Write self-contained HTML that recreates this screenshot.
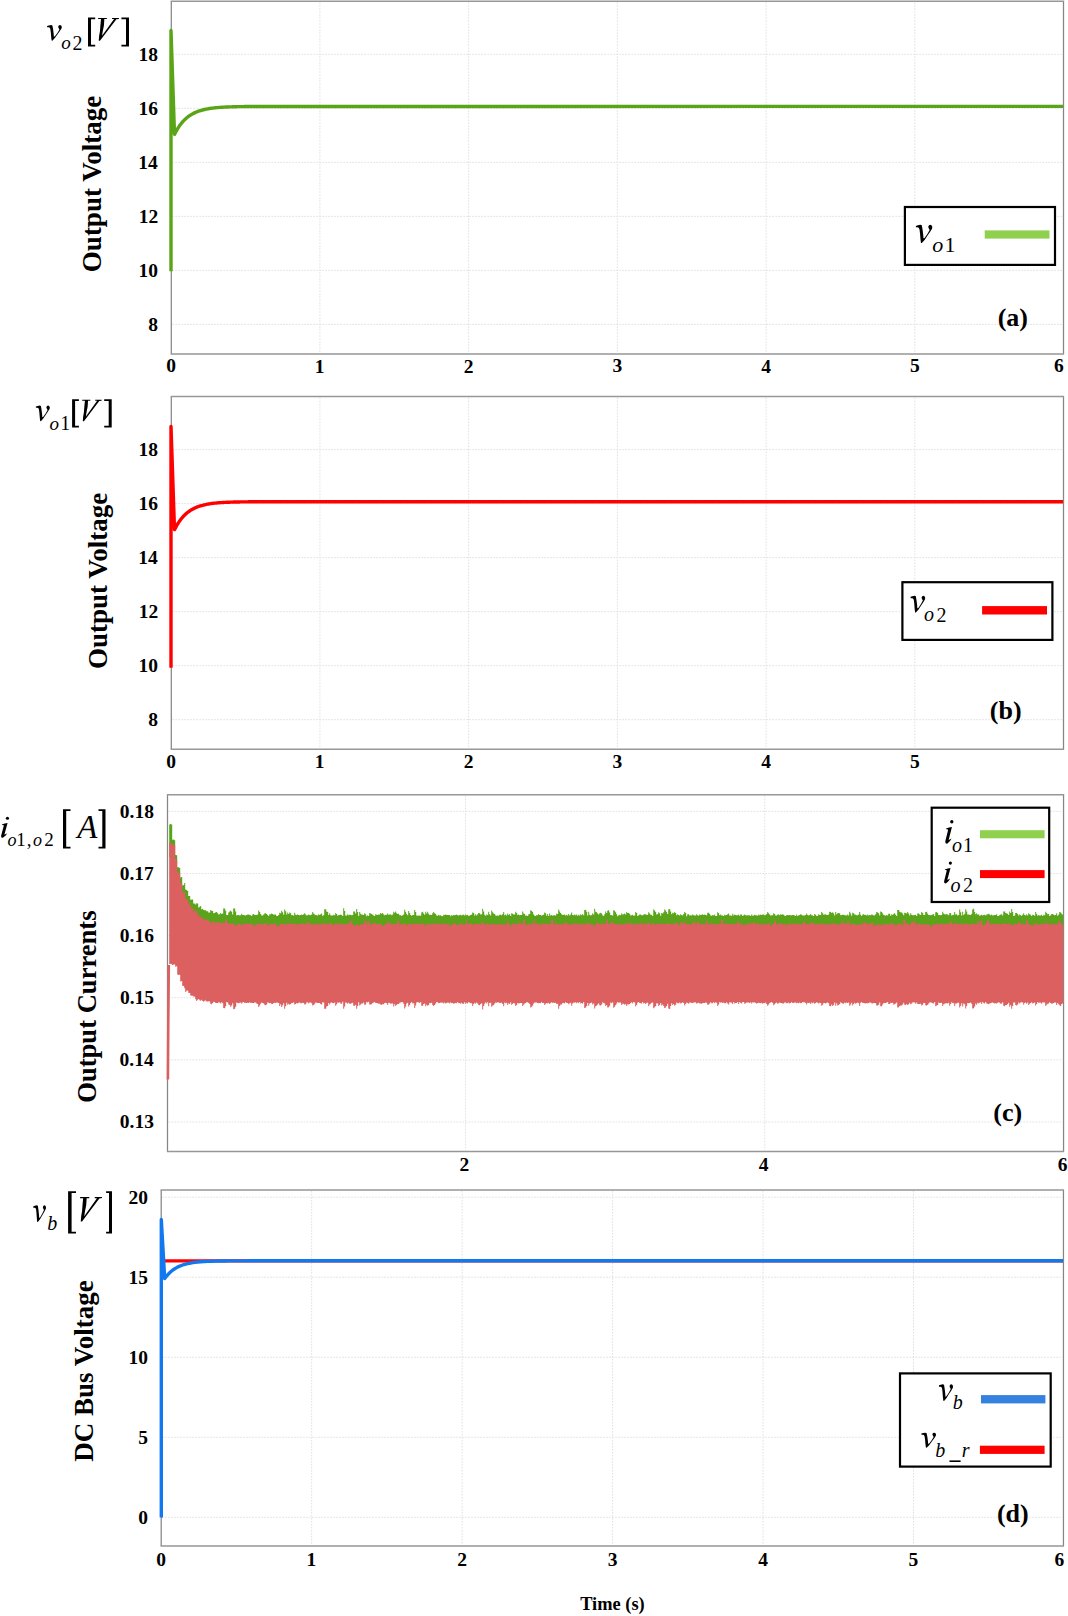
<!DOCTYPE html>
<html><head><meta charset="utf-8"><style>
html,body{margin:0;padding:0;background:#fff;overflow:hidden;}
svg{display:block;font-family:"Liberation Serif", serif;}
</style></head><body>
<svg width="1068" height="1616" viewBox="0 0 1068 1616" font-family='"Liberation Serif", serif'>
<rect x="0" y="0" width="1068" height="1616" fill="#fff"/>
<line x1="319.92" y1="2.30" x2="319.92" y2="352.90" stroke="#e0e0e0" stroke-width="1" stroke-dasharray="1.6 1.4"/>
<line x1="468.64" y1="2.30" x2="468.64" y2="352.90" stroke="#e0e0e0" stroke-width="1" stroke-dasharray="1.6 1.4"/>
<line x1="617.36" y1="2.30" x2="617.36" y2="352.90" stroke="#e0e0e0" stroke-width="1" stroke-dasharray="1.6 1.4"/>
<line x1="766.08" y1="2.30" x2="766.08" y2="352.90" stroke="#e0e0e0" stroke-width="1" stroke-dasharray="1.6 1.4"/>
<line x1="914.80" y1="2.30" x2="914.80" y2="352.90" stroke="#e0e0e0" stroke-width="1" stroke-dasharray="1.6 1.4"/>
<line x1="172.30" y1="324.40" x2="1062.50" y2="324.40" stroke="#e0e0e0" stroke-width="1" stroke-dasharray="1.6 1.4"/>
<line x1="172.30" y1="270.38" x2="1062.50" y2="270.38" stroke="#e0e0e0" stroke-width="1" stroke-dasharray="1.6 1.4"/>
<line x1="172.30" y1="216.36" x2="1062.50" y2="216.36" stroke="#e0e0e0" stroke-width="1" stroke-dasharray="1.6 1.4"/>
<line x1="172.30" y1="162.34" x2="1062.50" y2="162.34" stroke="#e0e0e0" stroke-width="1" stroke-dasharray="1.6 1.4"/>
<line x1="172.30" y1="108.32" x2="1062.50" y2="108.32" stroke="#e0e0e0" stroke-width="1" stroke-dasharray="1.6 1.4"/>
<line x1="172.30" y1="54.30" x2="1062.50" y2="54.30" stroke="#e0e0e0" stroke-width="1" stroke-dasharray="1.6 1.4"/>
<path d="M171.30,1.30V353.90M1063.50,1.30V353.90" stroke="#868686" stroke-width="1.25" fill="none"/>
<path d="M170.70,1.30H1064.10M170.70,353.90H1064.10" stroke="#979797" stroke-width="1.5" fill="none"/>
<path d="M171.00,271.20 L171.00,30.50 L174.50,134.30 L175.50,132.51 L176.50,130.66 L177.50,128.94 L178.50,127.34 L179.50,125.86 L180.50,124.48 L181.50,123.19 L182.50,122.00 L183.50,120.90 L184.50,119.87 L185.50,118.92 L186.50,118.03 L187.50,117.20 L188.50,116.44 L189.50,115.73 L190.50,115.07 L191.50,114.45 L192.50,113.88 L193.50,113.35 L194.50,112.86 L195.50,112.40 L196.50,111.97 L197.50,111.58 L198.50,111.21 L199.50,110.87 L200.50,110.55 L201.50,110.26 L202.50,109.99 L203.50,109.73 L204.50,109.50 L205.50,109.28 L206.50,109.07 L207.50,108.88 L208.50,108.71 L209.50,108.54 L210.50,108.39 L211.50,108.25 L212.50,108.12 L213.50,108.00 L214.50,107.88 L215.50,107.78 L216.50,107.68 L217.50,107.59 L218.50,107.51 L219.50,107.43 L220.50,107.35 L221.50,107.29 L222.50,107.22 L223.50,107.17 L224.50,107.11 L225.50,107.06 L226.50,107.01 L227.50,106.97 L228.50,106.93 L229.50,106.89 L230.50,106.86 L231.50,106.83 L232.50,106.79 L233.50,106.77 L234.50,106.74 L235.50,106.72 L236.50,106.69 L237.50,106.67 L238.50,106.65 L239.50,106.64 L240.50,106.62 L241.50,106.60 L242.50,106.59 L243.50,106.58 L244.50,106.56 L245.50,106.55 L246.50,106.54 L247.50,106.53 L248.50,106.52 L249.50,106.51 L250.50,106.51 L251.50,106.50 L252.50,106.49 L253.50,106.48 L254.50,106.48 L255.50,106.47 L256.50,106.47 L257.50,106.46 L258.50,106.46 L259.50,106.45 L260.50,106.45 L261.50,106.45 L262.50,106.44 L1063.00,106.40" fill="none" stroke="#5aa418" stroke-width="3.4" stroke-linejoin="round" stroke-linecap="butt"/>
<text x="148.18" y="330.88" style="font-weight:bold;font-size:19.5px">8</text>
<text x="138.55" y="276.86" style="font-weight:bold;font-size:19.5px">10</text>
<text x="138.68" y="222.96" style="font-weight:bold;font-size:19.5px">12</text>
<text x="138.18" y="168.94" style="font-weight:bold;font-size:19.5px">14</text>
<text x="138.43" y="114.79" style="font-weight:bold;font-size:19.5px">16</text>
<text x="138.43" y="60.77" style="font-weight:bold;font-size:19.5px">18</text>
<text x="166.32" y="372.48" style="font-weight:bold;font-size:19.5px">0</text>
<text x="314.73" y="372.60" style="font-weight:bold;font-size:19.5px">1</text>
<text x="463.76" y="372.60" style="font-weight:bold;font-size:19.5px">2</text>
<text x="612.42" y="372.48" style="font-weight:bold;font-size:19.5px">3</text>
<text x="761.27" y="372.60" style="font-weight:bold;font-size:19.5px">4</text>
<text x="909.92" y="372.48" style="font-weight:bold;font-size:19.5px">5</text>
<text x="1053.97" y="372.48" style="font-weight:bold;font-size:19.5px">6</text>
<line x1="319.92" y1="397.60" x2="319.92" y2="748.20" stroke="#e0e0e0" stroke-width="1" stroke-dasharray="1.6 1.4"/>
<line x1="468.64" y1="397.60" x2="468.64" y2="748.20" stroke="#e0e0e0" stroke-width="1" stroke-dasharray="1.6 1.4"/>
<line x1="617.36" y1="397.60" x2="617.36" y2="748.20" stroke="#e0e0e0" stroke-width="1" stroke-dasharray="1.6 1.4"/>
<line x1="766.08" y1="397.60" x2="766.08" y2="748.20" stroke="#e0e0e0" stroke-width="1" stroke-dasharray="1.6 1.4"/>
<line x1="914.80" y1="397.60" x2="914.80" y2="748.20" stroke="#e0e0e0" stroke-width="1" stroke-dasharray="1.6 1.4"/>
<line x1="172.30" y1="719.70" x2="1062.50" y2="719.70" stroke="#e0e0e0" stroke-width="1" stroke-dasharray="1.6 1.4"/>
<line x1="172.30" y1="665.68" x2="1062.50" y2="665.68" stroke="#e0e0e0" stroke-width="1" stroke-dasharray="1.6 1.4"/>
<line x1="172.30" y1="611.66" x2="1062.50" y2="611.66" stroke="#e0e0e0" stroke-width="1" stroke-dasharray="1.6 1.4"/>
<line x1="172.30" y1="557.64" x2="1062.50" y2="557.64" stroke="#e0e0e0" stroke-width="1" stroke-dasharray="1.6 1.4"/>
<line x1="172.30" y1="503.62" x2="1062.50" y2="503.62" stroke="#e0e0e0" stroke-width="1" stroke-dasharray="1.6 1.4"/>
<line x1="172.30" y1="449.60" x2="1062.50" y2="449.60" stroke="#e0e0e0" stroke-width="1" stroke-dasharray="1.6 1.4"/>
<path d="M171.30,396.60V749.20M1063.50,396.60V749.20" stroke="#868686" stroke-width="1.25" fill="none"/>
<path d="M170.70,396.60H1064.10M170.70,749.20H1064.10" stroke="#979797" stroke-width="1.5" fill="none"/>
<path d="M171.00,667.70 L171.00,426.40 L174.50,529.60 L175.50,527.81 L176.50,525.96 L177.50,524.24 L178.50,522.64 L179.50,521.16 L180.50,519.78 L181.50,518.49 L182.50,517.30 L183.50,516.20 L184.50,515.17 L185.50,514.22 L186.50,513.33 L187.50,512.50 L188.50,511.74 L189.50,511.03 L190.50,510.37 L191.50,509.75 L192.50,509.18 L193.50,508.65 L194.50,508.16 L195.50,507.70 L196.50,507.27 L197.50,506.88 L198.50,506.51 L199.50,506.17 L200.50,505.85 L201.50,505.56 L202.50,505.29 L203.50,505.03 L204.50,504.80 L205.50,504.58 L206.50,504.37 L207.50,504.18 L208.50,504.01 L209.50,503.84 L210.50,503.69 L211.50,503.55 L212.50,503.42 L213.50,503.30 L214.50,503.18 L215.50,503.08 L216.50,502.98 L217.50,502.89 L218.50,502.81 L219.50,502.73 L220.50,502.65 L221.50,502.59 L222.50,502.52 L223.50,502.47 L224.50,502.41 L225.50,502.36 L226.50,502.31 L227.50,502.27 L228.50,502.23 L229.50,502.19 L230.50,502.16 L231.50,502.13 L232.50,502.09 L233.50,502.07 L234.50,502.04 L235.50,502.02 L236.50,501.99 L237.50,501.97 L238.50,501.95 L239.50,501.94 L240.50,501.92 L241.50,501.90 L242.50,501.89 L243.50,501.88 L244.50,501.86 L245.50,501.85 L246.50,501.84 L247.50,501.83 L248.50,501.82 L249.50,501.81 L250.50,501.81 L251.50,501.80 L252.50,501.79 L253.50,501.78 L254.50,501.78 L255.50,501.77 L256.50,501.77 L257.50,501.76 L258.50,501.76 L259.50,501.75 L260.50,501.75 L261.50,501.75 L262.50,501.74 L1063.00,501.70" fill="none" stroke="#ff0000" stroke-width="3.4" stroke-linejoin="round" stroke-linecap="butt"/>
<text x="148.18" y="726.18" style="font-weight:bold;font-size:19.5px">8</text>
<text x="138.55" y="672.16" style="font-weight:bold;font-size:19.5px">10</text>
<text x="138.68" y="618.26" style="font-weight:bold;font-size:19.5px">12</text>
<text x="138.18" y="564.24" style="font-weight:bold;font-size:19.5px">14</text>
<text x="138.43" y="510.10" style="font-weight:bold;font-size:19.5px">16</text>
<text x="138.43" y="456.08" style="font-weight:bold;font-size:19.5px">18</text>
<text x="166.32" y="767.78" style="font-weight:bold;font-size:19.5px">0</text>
<text x="314.73" y="767.90" style="font-weight:bold;font-size:19.5px">1</text>
<text x="463.76" y="767.90" style="font-weight:bold;font-size:19.5px">2</text>
<text x="612.42" y="767.78" style="font-weight:bold;font-size:19.5px">3</text>
<text x="761.27" y="767.90" style="font-weight:bold;font-size:19.5px">4</text>
<text x="909.92" y="767.78" style="font-weight:bold;font-size:19.5px">5</text>
<line x1="465.60" y1="795.70" x2="465.60" y2="1150.45" stroke="#e0e0e0" stroke-width="1" stroke-dasharray="1.6 1.4"/>
<line x1="764.80" y1="795.70" x2="764.80" y2="1150.45" stroke="#e0e0e0" stroke-width="1" stroke-dasharray="1.6 1.4"/>
<line x1="168.50" y1="1122.00" x2="1062.55" y2="1122.00" stroke="#e0e0e0" stroke-width="1" stroke-dasharray="1.6 1.4"/>
<line x1="168.50" y1="1059.86" x2="1062.55" y2="1059.86" stroke="#e0e0e0" stroke-width="1" stroke-dasharray="1.6 1.4"/>
<line x1="168.50" y1="997.72" x2="1062.55" y2="997.72" stroke="#e0e0e0" stroke-width="1" stroke-dasharray="1.6 1.4"/>
<line x1="168.50" y1="935.58" x2="1062.55" y2="935.58" stroke="#e0e0e0" stroke-width="1" stroke-dasharray="1.6 1.4"/>
<line x1="168.50" y1="873.44" x2="1062.55" y2="873.44" stroke="#e0e0e0" stroke-width="1" stroke-dasharray="1.6 1.4"/>
<line x1="168.50" y1="811.30" x2="1062.55" y2="811.30" stroke="#e0e0e0" stroke-width="1" stroke-dasharray="1.6 1.4"/>
<path d="M167.50,794.70V1151.45M1063.55,794.70V1151.45" stroke="#868686" stroke-width="1.25" fill="none"/>
<path d="M166.90,794.70H1064.15M166.90,1151.45H1064.15" stroke="#979797" stroke-width="1.5" fill="none"/>
<path d="M169.2,824.6 L170.2,824.6 L170.2,824.0 L171.2,824.0 L171.2,824.6 L172.2,824.6 L172.2,839.7 L173.2,839.7 L173.2,839.4 L174.2,839.4 L174.2,840.3 L175.2,840.3 L175.2,855.0 L176.2,855.0 L176.2,855.3 L177.2,855.3 L177.2,867.3 L178.2,867.3 L178.2,867.3 L179.2,867.3 L179.2,868.0 L180.2,868.0 L180.2,877.6 L181.2,877.6 L181.2,876.9 L182.2,876.9 L182.2,885.6 L183.2,885.6 L183.2,884.9 L184.2,884.9 L184.2,883.1 L185.2,883.1 L185.2,889.5 L186.2,889.5 L186.2,889.9 L187.2,889.9 L187.2,891.0 L188.2,891.0 L188.2,895.9 L189.2,895.9 L189.2,895.9 L190.2,895.9 L190.2,899.8 L191.2,899.8 L191.2,899.4 L192.2,899.4 L192.2,899.6 L193.2,899.6 L193.2,903.5 L194.2,903.5 L194.2,903.4 L195.2,903.4 L195.2,904.5 L196.2,904.5 L196.2,903.3 L197.2,903.3 L197.2,903.5 L198.2,903.5 L198.2,907.5 L199.2,907.5 L199.2,906.8 L200.2,906.8 L200.2,906.0 L201.2,906.0 L201.2,909.3 L202.2,909.3 L202.2,908.8 L203.2,908.8 L203.2,909.9 L204.2,909.9 L204.2,910.2 L205.2,910.2 L205.2,910.3 L206.2,910.3 L206.2,911.2 L207.2,911.2 L207.2,911.2 L208.2,911.2 L208.2,912.4 L209.2,912.4 L209.2,912.4 L210.2,912.4 L210.2,910.0 L211.2,910.0 L211.2,910.8 L212.2,910.8 L212.2,911.1 L213.2,911.1 L213.2,913.3 L214.2,913.3 L214.2,912.9 L215.2,912.9 L215.2,912.3 L216.2,912.3 L216.2,912.1 L217.2,912.1 L217.2,913.3 L218.2,913.3 L218.2,914.4 L219.2,914.4 L219.2,914.2 L220.2,914.2 L220.2,913.1 L221.2,913.1 L221.2,913.9 L222.2,913.9 L222.2,913.5 L223.2,913.5 L223.2,908.4 L224.2,908.4 L224.2,908.5 L225.2,908.5 L225.2,910.7 L226.2,910.7 L226.2,915.1 L227.2,915.1 L227.2,915.1 L228.2,915.1 L228.2,912.4 L229.2,912.4 L229.2,911.5 L230.2,911.5 L230.2,910.6 L231.2,910.6 L231.2,911.8 L232.2,911.8 L232.2,914.5 L233.2,914.5 L233.2,908.4 L234.2,908.4 L234.2,908.6 L235.2,908.6 L235.2,911.5 L236.2,911.5 L236.2,915.5 L237.2,915.5 L237.2,914.9 L238.2,914.9 L238.2,914.9 L239.2,914.9 L239.2,915.4 L240.2,915.4 L240.2,915.3 L241.2,915.3 L241.2,913.8 L242.2,913.8 L242.2,914.9 L243.2,914.9 L243.2,915.0 L244.2,915.0 L244.2,915.2 L245.2,915.2 L245.2,915.4 L246.2,915.4 L246.2,915.0 L247.2,915.0 L247.2,914.5 L248.2,914.5 L248.2,914.4 L249.2,914.4 L249.2,915.1 L250.2,915.1 L250.2,915.2 L251.2,915.2 L251.2,915.9 L252.2,915.9 L252.2,914.4 L253.2,914.4 L253.2,914.1 L254.2,914.1 L254.2,915.1 L255.2,915.1 L255.2,915.1 L256.2,915.1 L256.2,915.0 L257.2,915.0 L257.2,914.6 L258.2,914.6 L258.2,910.5 L259.2,910.5 L259.2,912.0 L260.2,912.0 L260.2,913.9 L261.2,913.9 L261.2,915.4 L262.2,915.4 L262.2,915.5 L263.2,915.5 L263.2,914.5 L264.2,914.5 L264.2,913.4 L265.2,913.4 L265.2,913.3 L266.2,913.3 L266.2,914.1 L267.2,914.1 L267.2,915.1 L268.2,915.1 L268.2,916.0 L269.2,916.0 L269.2,914.3 L270.2,914.3 L270.2,914.3 L271.2,914.3 L271.2,913.4 L272.2,913.4 L272.2,914.1 L273.2,914.1 L273.2,914.8 L274.2,914.8 L274.2,914.6 L275.2,914.6 L275.2,914.6 L276.2,914.6 L276.2,916.0 L277.2,916.0 L277.2,916.0 L278.2,916.0 L278.2,915.1 L279.2,915.1 L279.2,912.7 L280.2,912.7 L280.2,913.3 L281.2,913.3 L281.2,910.7 L282.2,910.7 L282.2,912.2 L283.2,912.2 L283.2,914.8 L284.2,914.8 L284.2,909.4 L285.2,909.4 L285.2,911.2 L286.2,911.2 L286.2,914.5 L287.2,914.5 L287.2,912.5 L288.2,912.5 L288.2,913.9 L289.2,913.9 L289.2,912.6 L290.2,912.6 L290.2,913.3 L291.2,913.3 L291.2,915.3 L292.2,915.3 L292.2,914.9 L293.2,914.9 L293.2,915.7 L294.2,915.7 L294.2,912.8 L295.2,912.8 L295.2,914.8 L296.2,914.8 L296.2,914.9 L297.2,914.9 L297.2,914.6 L298.2,914.6 L298.2,915.0 L299.2,915.0 L299.2,915.2 L300.2,915.2 L300.2,915.1 L301.2,915.1 L301.2,914.4 L302.2,914.4 L302.2,915.1 L303.2,915.1 L303.2,914.3 L304.2,914.3 L304.2,913.2 L305.2,913.2 L305.2,914.5 L306.2,914.5 L306.2,915.4 L307.2,915.4 L307.2,915.2 L308.2,915.2 L308.2,914.5 L309.2,914.5 L309.2,914.9 L310.2,914.9 L310.2,915.3 L311.2,915.3 L311.2,914.6 L312.2,914.6 L312.2,912.0 L313.2,912.0 L313.2,913.4 L314.2,913.4 L314.2,914.5 L315.2,914.5 L315.2,915.1 L316.2,915.1 L316.2,915.2 L317.2,915.2 L317.2,915.5 L318.2,915.5 L318.2,914.3 L319.2,914.3 L319.2,915.0 L320.2,915.0 L320.2,914.3 L321.2,914.3 L321.2,913.4 L322.2,913.4 L322.2,915.9 L323.2,915.9 L323.2,915.1 L324.2,915.1 L324.2,909.2 L325.2,909.2 L325.2,909.2 L326.2,909.2 L326.2,911.5 L327.2,911.5 L327.2,911.9 L328.2,911.9 L328.2,915.0 L329.2,915.0 L329.2,913.3 L330.2,913.3 L330.2,915.3 L331.2,915.3 L331.2,915.4 L332.2,915.4 L332.2,915.6 L333.2,915.6 L333.2,914.7 L334.2,914.7 L334.2,915.3 L335.2,915.3 L335.2,912.9 L336.2,912.9 L336.2,914.0 L337.2,914.0 L337.2,915.7 L338.2,915.7 L338.2,915.1 L339.2,915.1 L339.2,915.0 L340.2,915.0 L340.2,914.4 L341.2,914.4 L341.2,915.1 L342.2,915.1 L342.2,916.0 L343.2,916.0 L343.2,908.3 L344.2,908.3 L344.2,910.9 L345.2,910.9 L345.2,915.4 L346.2,915.4 L346.2,915.6 L347.2,915.6 L347.2,914.3 L348.2,914.3 L348.2,915.2 L349.2,915.2 L349.2,914.7 L350.2,914.7 L350.2,914.7 L351.2,914.7 L351.2,915.2 L352.2,915.2 L352.2,915.1 L353.2,915.1 L353.2,911.6 L354.2,911.6 L354.2,911.5 L355.2,911.5 L355.2,913.5 L356.2,913.5 L356.2,908.9 L357.2,908.9 L357.2,912.1 L358.2,912.1 L358.2,915.9 L359.2,915.9 L359.2,911.9 L360.2,911.9 L360.2,913.7 L361.2,913.7 L361.2,914.7 L362.2,914.7 L362.2,914.4 L363.2,914.4 L363.2,914.9 L364.2,914.9 L364.2,913.2 L365.2,913.2 L365.2,914.2 L366.2,914.2 L366.2,916.2 L367.2,916.2 L367.2,915.2 L368.2,915.2 L368.2,916.1 L369.2,916.1 L369.2,913.1 L370.2,913.1 L370.2,913.4 L371.2,913.4 L371.2,913.9 L372.2,913.9 L372.2,914.8 L373.2,914.8 L373.2,915.5 L374.2,915.5 L374.2,915.9 L375.2,915.9 L375.2,914.3 L376.2,914.3 L376.2,914.7 L377.2,914.7 L377.2,915.1 L378.2,915.1 L378.2,914.5 L379.2,914.5 L379.2,914.5 L380.2,914.5 L380.2,913.0 L381.2,913.0 L381.2,913.7 L382.2,913.7 L382.2,913.0 L383.2,913.0 L383.2,914.5 L384.2,914.5 L384.2,915.3 L385.2,915.3 L385.2,914.8 L386.2,914.8 L386.2,914.7 L387.2,914.7 L387.2,913.5 L388.2,913.5 L388.2,914.8 L389.2,914.8 L389.2,914.5 L390.2,914.5 L390.2,914.3 L391.2,914.3 L391.2,915.3 L392.2,915.3 L392.2,914.6 L393.2,914.6 L393.2,911.7 L394.2,911.7 L394.2,912.8 L395.2,912.8 L395.2,911.5 L396.2,911.5 L396.2,913.2 L397.2,913.2 L397.2,913.9 L398.2,913.9 L398.2,913.8 L399.2,913.8 L399.2,915.2 L400.2,915.2 L400.2,914.9 L401.2,914.9 L401.2,915.9 L402.2,915.9 L402.2,915.2 L403.2,915.2 L403.2,914.5 L404.2,914.5 L404.2,909.8 L405.2,909.8 L405.2,911.9 L406.2,911.9 L406.2,914.0 L407.2,914.0 L407.2,915.3 L408.2,915.3 L408.2,910.9 L409.2,910.9 L409.2,913.0 L410.2,913.0 L410.2,914.9 L411.2,914.9 L411.2,915.7 L412.2,915.7 L412.2,915.0 L413.2,915.0 L413.2,915.1 L414.2,915.1 L414.2,909.9 L415.2,909.9 L415.2,912.1 L416.2,912.1 L416.2,915.6 L417.2,915.6 L417.2,915.8 L418.2,915.8 L418.2,915.6 L419.2,915.6 L419.2,915.6 L420.2,915.6 L420.2,915.8 L421.2,915.8 L421.2,912.4 L422.2,912.4 L422.2,911.8 L423.2,911.8 L423.2,913.6 L424.2,913.6 L424.2,914.8 L425.2,914.8 L425.2,911.8 L426.2,911.8 L426.2,913.6 L427.2,913.6 L427.2,911.7 L428.2,911.7 L428.2,913.7 L429.2,913.7 L429.2,915.1 L430.2,915.1 L430.2,914.8 L431.2,914.8 L431.2,914.9 L432.2,914.9 L432.2,913.2 L433.2,913.2 L433.2,912.1 L434.2,912.1 L434.2,913.3 L435.2,913.3 L435.2,914.0 L436.2,914.0 L436.2,915.5 L437.2,915.5 L437.2,915.8 L438.2,915.8 L438.2,914.8 L439.2,914.8 L439.2,915.6 L440.2,915.6 L440.2,915.3 L441.2,915.3 L441.2,915.9 L442.2,915.9 L442.2,916.2 L443.2,916.2 L443.2,914.8 L444.2,914.8 L444.2,914.9 L445.2,914.9 L445.2,914.4 L446.2,914.4 L446.2,914.9 L447.2,914.9 L447.2,915.1 L448.2,915.1 L448.2,915.1 L449.2,915.1 L449.2,915.0 L450.2,915.0 L450.2,916.2 L451.2,916.2 L451.2,915.1 L452.2,915.1 L452.2,915.7 L453.2,915.7 L453.2,914.9 L454.2,914.9 L454.2,915.3 L455.2,915.3 L455.2,915.1 L456.2,915.1 L456.2,914.6 L457.2,914.6 L457.2,915.3 L458.2,915.3 L458.2,915.5 L459.2,915.5 L459.2,915.0 L460.2,915.0 L460.2,914.7 L461.2,914.7 L461.2,915.5 L462.2,915.5 L462.2,914.7 L463.2,914.7 L463.2,914.8 L464.2,914.8 L464.2,915.4 L465.2,915.4 L465.2,914.4 L466.2,914.4 L466.2,915.2 L467.2,915.2 L467.2,914.7 L468.2,914.7 L468.2,916.0 L469.2,916.0 L469.2,915.5 L470.2,915.5 L470.2,915.1 L471.2,915.1 L471.2,914.6 L472.2,914.6 L472.2,912.6 L473.2,912.6 L473.2,913.0 L474.2,913.0 L474.2,915.5 L475.2,915.5 L475.2,914.2 L476.2,914.2 L476.2,915.4 L477.2,915.4 L477.2,914.2 L478.2,914.2 L478.2,912.9 L479.2,912.9 L479.2,913.3 L480.2,913.3 L480.2,914.4 L481.2,914.4 L481.2,914.3 L482.2,914.3 L482.2,908.7 L483.2,908.7 L483.2,911.5 L484.2,911.5 L484.2,914.7 L485.2,914.7 L485.2,915.7 L486.2,915.7 L486.2,914.6 L487.2,914.6 L487.2,915.1 L488.2,915.1 L488.2,911.8 L489.2,911.8 L489.2,914.3 L490.2,914.3 L490.2,915.6 L491.2,915.6 L491.2,910.4 L492.2,910.4 L492.2,912.3 L493.2,912.3 L493.2,913.6 L494.2,913.6 L494.2,914.1 L495.2,914.1 L495.2,915.6 L496.2,915.6 L496.2,915.7 L497.2,915.7 L497.2,915.5 L498.2,915.5 L498.2,915.8 L499.2,915.8 L499.2,914.7 L500.2,914.7 L500.2,914.7 L501.2,914.7 L501.2,915.3 L502.2,915.3 L502.2,914.0 L503.2,914.0 L503.2,912.0 L504.2,912.0 L504.2,915.2 L505.2,915.2 L505.2,914.4 L506.2,914.4 L506.2,915.6 L507.2,915.6 L507.2,913.5 L508.2,913.5 L508.2,914.9 L509.2,914.9 L509.2,914.1 L510.2,914.1 L510.2,915.9 L511.2,915.9 L511.2,913.2 L512.2,913.2 L512.2,913.8 L513.2,913.8 L513.2,914.5 L514.2,914.5 L514.2,914.5 L515.2,914.5 L515.2,911.7 L516.2,911.7 L516.2,912.9 L517.2,912.9 L517.2,914.9 L518.2,914.9 L518.2,914.5 L519.2,914.5 L519.2,915.3 L520.2,915.3 L520.2,915.1 L521.2,915.1 L521.2,914.9 L522.2,914.9 L522.2,911.5 L523.2,911.5 L523.2,913.6 L524.2,913.6 L524.2,914.1 L525.2,914.1 L525.2,915.7 L526.2,915.7 L526.2,915.6 L527.2,915.6 L527.2,916.0 L528.2,916.0 L528.2,914.2 L529.2,914.2 L529.2,913.9 L530.2,913.9 L530.2,910.2 L531.2,910.2 L531.2,910.9 L532.2,910.9 L532.2,912.1 L533.2,912.1 L533.2,914.6 L534.2,914.6 L534.2,915.7 L535.2,915.7 L535.2,915.9 L536.2,915.9 L536.2,915.0 L537.2,915.0 L537.2,915.2 L538.2,915.2 L538.2,914.1 L539.2,914.1 L539.2,915.1 L540.2,915.1 L540.2,914.9 L541.2,914.9 L541.2,915.7 L542.2,915.7 L542.2,914.9 L543.2,914.9 L543.2,914.7 L544.2,914.7 L544.2,912.4 L545.2,912.4 L545.2,913.3 L546.2,913.3 L546.2,915.8 L547.2,915.8 L547.2,914.0 L548.2,914.0 L548.2,916.0 L549.2,916.0 L549.2,913.6 L550.2,913.6 L550.2,915.6 L551.2,915.6 L551.2,915.1 L552.2,915.1 L552.2,915.7 L553.2,915.7 L553.2,915.3 L554.2,915.3 L554.2,915.2 L555.2,915.2 L555.2,915.5 L556.2,915.5 L556.2,913.6 L557.2,913.6 L557.2,914.1 L558.2,914.1 L558.2,909.6 L559.2,909.6 L559.2,911.5 L560.2,911.5 L560.2,913.0 L561.2,913.0 L561.2,914.2 L562.2,914.2 L562.2,915.0 L563.2,915.0 L563.2,914.8 L564.2,914.8 L564.2,914.4 L565.2,914.4 L565.2,915.5 L566.2,915.5 L566.2,914.7 L567.2,914.7 L567.2,915.4 L568.2,915.4 L568.2,914.0 L569.2,914.0 L569.2,915.5 L570.2,915.5 L570.2,914.4 L571.2,914.4 L571.2,912.5 L572.2,912.5 L572.2,914.9 L573.2,914.9 L573.2,915.3 L574.2,915.3 L574.2,914.4 L575.2,914.4 L575.2,915.3 L576.2,915.3 L576.2,914.4 L577.2,914.4 L577.2,915.7 L578.2,915.7 L578.2,914.7 L579.2,914.7 L579.2,915.4 L580.2,915.4 L580.2,914.2 L581.2,914.2 L581.2,915.2 L582.2,915.2 L582.2,914.1 L583.2,914.1 L583.2,915.3 L584.2,915.3 L584.2,910.1 L585.2,910.1 L585.2,909.8 L586.2,909.8 L586.2,911.8 L587.2,911.8 L587.2,915.5 L588.2,915.5 L588.2,911.7 L589.2,911.7 L589.2,914.8 L590.2,914.8 L590.2,915.6 L591.2,915.6 L591.2,915.1 L592.2,915.1 L592.2,913.3 L593.2,913.3 L593.2,914.5 L594.2,914.5 L594.2,908.8 L595.2,908.8 L595.2,911.7 L596.2,911.7 L596.2,912.3 L597.2,912.3 L597.2,913.5 L598.2,913.5 L598.2,914.5 L599.2,914.5 L599.2,913.2 L600.2,913.2 L600.2,912.8 L601.2,912.8 L601.2,913.5 L602.2,913.5 L602.2,915.2 L603.2,915.2 L603.2,915.9 L604.2,915.9 L604.2,914.3 L605.2,914.3 L605.2,911.5 L606.2,911.5 L606.2,913.0 L607.2,913.0 L607.2,910.7 L608.2,910.7 L608.2,910.2 L609.2,910.2 L609.2,912.5 L610.2,912.5 L610.2,915.0 L611.2,915.0 L611.2,915.2 L612.2,915.2 L612.2,915.4 L613.2,915.4 L613.2,910.3 L614.2,910.3 L614.2,910.7 L615.2,910.7 L615.2,912.3 L616.2,912.3 L616.2,914.2 L617.2,914.2 L617.2,916.2 L618.2,916.2 L618.2,915.2 L619.2,915.2 L619.2,914.7 L620.2,914.7 L620.2,915.3 L621.2,915.3 L621.2,913.3 L622.2,913.3 L622.2,914.5 L623.2,914.5 L623.2,914.2 L624.2,914.2 L624.2,913.5 L625.2,913.5 L625.2,914.5 L626.2,914.5 L626.2,912.0 L627.2,912.0 L627.2,913.0 L628.2,913.0 L628.2,913.0 L629.2,913.0 L629.2,914.0 L630.2,914.0 L630.2,915.5 L631.2,915.5 L631.2,915.2 L632.2,915.2 L632.2,914.7 L633.2,914.7 L633.2,915.8 L634.2,915.8 L634.2,915.6 L635.2,915.6 L635.2,912.0 L636.2,912.0 L636.2,912.9 L637.2,912.9 L637.2,915.9 L638.2,915.9 L638.2,915.3 L639.2,915.3 L639.2,914.6 L640.2,914.6 L640.2,914.6 L641.2,914.6 L641.2,915.3 L642.2,915.3 L642.2,915.2 L643.2,915.2 L643.2,914.6 L644.2,914.6 L644.2,914.2 L645.2,914.2 L645.2,914.3 L646.2,914.3 L646.2,914.9 L647.2,914.9 L647.2,914.8 L648.2,914.8 L648.2,912.3 L649.2,912.3 L649.2,913.4 L650.2,913.4 L650.2,914.7 L651.2,914.7 L651.2,914.7 L652.2,914.7 L652.2,916.0 L653.2,916.0 L653.2,909.6 L654.2,909.6 L654.2,910.5 L655.2,910.5 L655.2,911.9 L656.2,911.9 L656.2,914.4 L657.2,914.4 L657.2,914.0 L658.2,914.0 L658.2,912.3 L659.2,912.3 L659.2,913.2 L660.2,913.2 L660.2,915.8 L661.2,915.8 L661.2,913.1 L662.2,913.1 L662.2,913.6 L663.2,913.6 L663.2,912.2 L664.2,912.2 L664.2,909.6 L665.2,909.6 L665.2,910.4 L666.2,910.4 L666.2,912.0 L667.2,912.0 L667.2,914.1 L668.2,914.1 L668.2,909.5 L669.2,909.5 L669.2,908.9 L670.2,908.9 L670.2,911.4 L671.2,911.4 L671.2,914.3 L672.2,914.3 L672.2,912.8 L673.2,912.8 L673.2,913.2 L674.2,913.2 L674.2,912.0 L675.2,912.0 L675.2,913.0 L676.2,913.0 L676.2,915.3 L677.2,915.3 L677.2,914.3 L678.2,914.3 L678.2,915.0 L679.2,915.0 L679.2,915.5 L680.2,915.5 L680.2,914.3 L681.2,914.3 L681.2,915.1 L682.2,915.1 L682.2,915.4 L683.2,915.4 L683.2,914.1 L684.2,914.1 L684.2,912.1 L685.2,912.1 L685.2,913.1 L686.2,913.1 L686.2,916.2 L687.2,916.2 L687.2,914.3 L688.2,914.3 L688.2,914.2 L689.2,914.2 L689.2,915.4 L690.2,915.4 L690.2,915.2 L691.2,915.2 L691.2,915.4 L692.2,915.4 L692.2,914.4 L693.2,914.4 L693.2,915.2 L694.2,915.2 L694.2,915.5 L695.2,915.5 L695.2,915.5 L696.2,915.5 L696.2,914.3 L697.2,914.3 L697.2,915.2 L698.2,915.2 L698.2,915.7 L699.2,915.7 L699.2,914.6 L700.2,914.6 L700.2,915.1 L701.2,915.1 L701.2,914.8 L702.2,914.8 L702.2,914.3 L703.2,914.3 L703.2,914.9 L704.2,914.9 L704.2,914.6 L705.2,914.6 L705.2,914.9 L706.2,914.9 L706.2,915.3 L707.2,915.3 L707.2,912.8 L708.2,912.8 L708.2,912.7 L709.2,912.7 L709.2,913.9 L710.2,913.9 L710.2,915.5 L711.2,915.5 L711.2,915.7 L712.2,915.7 L712.2,914.9 L713.2,914.9 L713.2,915.6 L714.2,915.6 L714.2,914.5 L715.2,914.5 L715.2,916.0 L716.2,916.0 L716.2,915.9 L717.2,915.9 L717.2,912.2 L718.2,912.2 L718.2,913.3 L719.2,913.3 L719.2,915.2 L720.2,915.2 L720.2,914.6 L721.2,914.6 L721.2,915.4 L722.2,915.4 L722.2,915.4 L723.2,915.4 L723.2,916.0 L724.2,916.0 L724.2,914.8 L725.2,914.8 L725.2,915.3 L726.2,915.3 L726.2,915.1 L727.2,915.1 L727.2,914.2 L728.2,914.2 L728.2,913.6 L729.2,913.6 L729.2,915.5 L730.2,915.5 L730.2,915.4 L731.2,915.4 L731.2,915.7 L732.2,915.7 L732.2,913.8 L733.2,913.8 L733.2,915.4 L734.2,915.4 L734.2,914.4 L735.2,914.4 L735.2,914.9 L736.2,914.9 L736.2,915.2 L737.2,915.2 L737.2,915.2 L738.2,915.2 L738.2,914.6 L739.2,914.6 L739.2,915.7 L740.2,915.7 L740.2,914.6 L741.2,914.6 L741.2,914.5 L742.2,914.5 L742.2,915.9 L743.2,915.9 L743.2,915.2 L744.2,915.2 L744.2,914.4 L745.2,914.4 L745.2,915.3 L746.2,915.3 L746.2,915.4 L747.2,915.4 L747.2,915.3 L748.2,915.3 L748.2,915.2 L749.2,915.2 L749.2,915.3 L750.2,915.3 L750.2,915.9 L751.2,915.9 L751.2,914.5 L752.2,914.5 L752.2,915.7 L753.2,915.7 L753.2,915.5 L754.2,915.5 L754.2,914.8 L755.2,914.8 L755.2,915.2 L756.2,915.2 L756.2,915.2 L757.2,915.2 L757.2,915.8 L758.2,915.8 L758.2,914.6 L759.2,914.6 L759.2,915.3 L760.2,915.3 L760.2,914.5 L761.2,914.5 L761.2,915.0 L762.2,915.0 L762.2,914.6 L763.2,914.6 L763.2,914.5 L764.2,914.5 L764.2,915.2 L765.2,915.2 L765.2,915.1 L766.2,915.1 L766.2,914.1 L767.2,914.1 L767.2,911.9 L768.2,911.9 L768.2,913.2 L769.2,913.2 L769.2,914.6 L770.2,914.6 L770.2,915.4 L771.2,915.4 L771.2,915.2 L772.2,915.2 L772.2,915.3 L773.2,915.3 L773.2,913.3 L774.2,913.3 L774.2,913.9 L775.2,913.9 L775.2,915.4 L776.2,915.4 L776.2,915.4 L777.2,915.4 L777.2,914.4 L778.2,914.4 L778.2,914.6 L779.2,914.6 L779.2,915.2 L780.2,915.2 L780.2,914.3 L781.2,914.3 L781.2,914.8 L782.2,914.8 L782.2,914.2 L783.2,914.2 L783.2,914.7 L784.2,914.7 L784.2,915.8 L785.2,915.8 L785.2,915.9 L786.2,915.9 L786.2,914.9 L787.2,914.9 L787.2,915.0 L788.2,915.0 L788.2,915.3 L789.2,915.3 L789.2,915.1 L790.2,915.1 L790.2,915.2 L791.2,915.2 L791.2,915.2 L792.2,915.2 L792.2,914.9 L793.2,914.9 L793.2,914.9 L794.2,914.9 L794.2,915.5 L795.2,915.5 L795.2,915.9 L796.2,915.9 L796.2,914.5 L797.2,914.5 L797.2,916.0 L798.2,916.0 L798.2,915.3 L799.2,915.3 L799.2,915.1 L800.2,915.1 L800.2,914.3 L801.2,914.3 L801.2,914.7 L802.2,914.7 L802.2,915.5 L803.2,915.5 L803.2,915.4 L804.2,915.4 L804.2,915.4 L805.2,915.4 L805.2,914.9 L806.2,914.9 L806.2,913.5 L807.2,913.5 L807.2,914.9 L808.2,914.9 L808.2,915.5 L809.2,915.5 L809.2,915.0 L810.2,915.0 L810.2,914.1 L811.2,914.1 L811.2,915.2 L812.2,915.2 L812.2,915.4 L813.2,915.4 L813.2,916.1 L814.2,916.1 L814.2,914.1 L815.2,914.1 L815.2,914.7 L816.2,914.7 L816.2,915.9 L817.2,915.9 L817.2,915.7 L818.2,915.7 L818.2,914.2 L819.2,914.2 L819.2,914.9 L820.2,914.9 L820.2,915.0 L821.2,915.0 L821.2,911.9 L822.2,911.9 L822.2,913.2 L823.2,913.2 L823.2,914.7 L824.2,914.7 L824.2,914.5 L825.2,914.5 L825.2,914.2 L826.2,914.2 L826.2,914.9 L827.2,914.9 L827.2,915.0 L828.2,915.0 L828.2,914.5 L829.2,914.5 L829.2,911.8 L830.2,911.8 L830.2,911.9 L831.2,911.9 L831.2,912.9 L832.2,912.9 L832.2,912.3 L833.2,912.3 L833.2,913.5 L834.2,913.5 L834.2,915.6 L835.2,915.6 L835.2,912.0 L836.2,912.0 L836.2,914.2 L837.2,914.2 L837.2,913.2 L838.2,913.2 L838.2,912.9 L839.2,912.9 L839.2,913.3 L840.2,913.3 L840.2,915.2 L841.2,915.2 L841.2,915.1 L842.2,915.1 L842.2,914.7 L843.2,914.7 L843.2,914.8 L844.2,914.8 L844.2,915.2 L845.2,915.2 L845.2,915.3 L846.2,915.3 L846.2,915.4 L847.2,915.4 L847.2,914.6 L848.2,914.6 L848.2,915.5 L849.2,915.5 L849.2,911.7 L850.2,911.7 L850.2,913.5 L851.2,913.5 L851.2,915.7 L852.2,915.7 L852.2,912.8 L853.2,912.8 L853.2,913.3 L854.2,913.3 L854.2,914.6 L855.2,914.6 L855.2,914.7 L856.2,914.7 L856.2,915.2 L857.2,915.2 L857.2,915.3 L858.2,915.3 L858.2,914.6 L859.2,914.6 L859.2,912.0 L860.2,912.0 L860.2,914.7 L861.2,914.7 L861.2,915.9 L862.2,915.9 L862.2,914.6 L863.2,914.6 L863.2,914.3 L864.2,914.3 L864.2,915.0 L865.2,915.0 L865.2,914.7 L866.2,914.7 L866.2,915.4 L867.2,915.4 L867.2,914.5 L868.2,914.5 L868.2,915.6 L869.2,915.6 L869.2,914.9 L870.2,914.9 L870.2,915.2 L871.2,915.2 L871.2,914.5 L872.2,914.5 L872.2,914.8 L873.2,914.8 L873.2,915.4 L874.2,915.4 L874.2,915.3 L875.2,915.3 L875.2,914.3 L876.2,914.3 L876.2,912.1 L877.2,912.1 L877.2,912.4 L878.2,912.4 L878.2,913.2 L879.2,913.2 L879.2,915.5 L880.2,915.5 L880.2,911.6 L881.2,911.6 L881.2,912.1 L882.2,912.1 L882.2,913.5 L883.2,913.5 L883.2,915.1 L884.2,915.1 L884.2,915.3 L885.2,915.3 L885.2,915.8 L886.2,915.8 L886.2,914.9 L887.2,914.9 L887.2,915.5 L888.2,915.5 L888.2,913.8 L889.2,913.8 L889.2,913.8 L890.2,913.8 L890.2,915.7 L891.2,915.7 L891.2,914.3 L892.2,914.3 L892.2,915.1 L893.2,915.1 L893.2,913.7 L894.2,913.7 L894.2,913.3 L895.2,913.3 L895.2,914.7 L896.2,914.7 L896.2,916.1 L897.2,916.1 L897.2,910.1 L898.2,910.1 L898.2,909.9 L899.2,909.9 L899.2,911.8 L900.2,911.8 L900.2,912.3 L901.2,912.3 L901.2,912.4 L902.2,912.4 L902.2,913.4 L903.2,913.4 L903.2,915.2 L904.2,915.2 L904.2,912.8 L905.2,912.8 L905.2,913.0 L906.2,913.0 L906.2,913.4 L907.2,913.4 L907.2,911.9 L908.2,911.9 L908.2,913.4 L909.2,913.4 L909.2,915.6 L910.2,915.6 L910.2,913.2 L911.2,913.2 L911.2,914.8 L912.2,914.8 L912.2,915.3 L913.2,915.3 L913.2,915.2 L914.2,915.2 L914.2,915.0 L915.2,915.0 L915.2,914.7 L916.2,914.7 L916.2,916.0 L917.2,916.0 L917.2,913.5 L918.2,913.5 L918.2,913.5 L919.2,913.5 L919.2,914.6 L920.2,914.6 L920.2,915.1 L921.2,915.1 L921.2,912.1 L922.2,912.1 L922.2,912.9 L923.2,912.9 L923.2,914.9 L924.2,914.9 L924.2,914.9 L925.2,914.9 L925.2,911.9 L926.2,911.9 L926.2,911.7 L927.2,911.7 L927.2,913.8 L928.2,913.8 L928.2,915.0 L929.2,915.0 L929.2,915.0 L930.2,915.0 L930.2,915.3 L931.2,915.3 L931.2,915.0 L932.2,915.0 L932.2,914.4 L933.2,914.4 L933.2,914.1 L934.2,914.1 L934.2,916.0 L935.2,916.0 L935.2,912.3 L936.2,912.3 L936.2,912.0 L937.2,912.0 L937.2,912.9 L938.2,912.9 L938.2,915.1 L939.2,915.1 L939.2,915.1 L940.2,915.1 L940.2,915.2 L941.2,915.2 L941.2,915.0 L942.2,915.0 L942.2,911.7 L943.2,911.7 L943.2,913.5 L944.2,913.5 L944.2,914.2 L945.2,914.2 L945.2,914.6 L946.2,914.6 L946.2,914.1 L947.2,914.1 L947.2,914.5 L948.2,914.5 L948.2,915.3 L949.2,915.3 L949.2,912.9 L950.2,912.9 L950.2,913.3 L951.2,913.3 L951.2,915.4 L952.2,915.4 L952.2,915.0 L953.2,915.0 L953.2,914.8 L954.2,914.8 L954.2,912.1 L955.2,912.1 L955.2,914.6 L956.2,914.6 L956.2,914.2 L957.2,914.2 L957.2,915.5 L958.2,915.5 L958.2,915.1 L959.2,915.1 L959.2,909.5 L960.2,909.5 L960.2,912.2 L961.2,912.2 L961.2,915.4 L962.2,915.4 L962.2,911.7 L963.2,911.7 L963.2,915.1 L964.2,915.1 L964.2,913.8 L965.2,913.8 L965.2,909.3 L966.2,909.3 L966.2,911.4 L967.2,911.4 L967.2,914.6 L968.2,914.6 L968.2,914.6 L969.2,914.6 L969.2,914.8 L970.2,914.8 L970.2,915.1 L971.2,915.1 L971.2,913.8 L972.2,913.8 L972.2,909.6 L973.2,909.6 L973.2,908.8 L974.2,908.8 L974.2,911.9 L975.2,911.9 L975.2,914.3 L976.2,914.3 L976.2,913.3 L977.2,913.3 L977.2,914.7 L978.2,914.7 L978.2,914.3 L979.2,914.3 L979.2,915.7 L980.2,915.7 L980.2,915.2 L981.2,915.2 L981.2,914.7 L982.2,914.7 L982.2,915.6 L983.2,915.6 L983.2,915.0 L984.2,915.0 L984.2,914.7 L985.2,914.7 L985.2,915.6 L986.2,915.6 L986.2,914.4 L987.2,914.4 L987.2,914.2 L988.2,914.2 L988.2,913.7 L989.2,913.7 L989.2,914.5 L990.2,914.5 L990.2,915.2 L991.2,915.2 L991.2,914.6 L992.2,914.6 L992.2,915.5 L993.2,915.5 L993.2,915.3 L994.2,915.3 L994.2,915.0 L995.2,915.0 L995.2,914.9 L996.2,914.9 L996.2,914.3 L997.2,914.3 L997.2,915.9 L998.2,915.9 L998.2,916.0 L999.2,916.0 L999.2,915.0 L1000.2,915.0 L1000.2,914.5 L1001.2,914.5 L1001.2,914.3 L1002.2,914.3 L1002.2,915.6 L1003.2,915.6 L1003.2,911.6 L1004.2,911.6 L1004.2,911.4 L1005.2,911.4 L1005.2,912.9 L1006.2,912.9 L1006.2,913.4 L1007.2,913.4 L1007.2,913.8 L1008.2,913.8 L1008.2,915.1 L1009.2,915.1 L1009.2,911.6 L1010.2,911.6 L1010.2,913.1 L1011.2,913.1 L1011.2,909.0 L1012.2,909.0 L1012.2,912.0 L1013.2,912.0 L1013.2,915.9 L1014.2,915.9 L1014.2,915.5 L1015.2,915.5 L1015.2,912.9 L1016.2,912.9 L1016.2,912.9 L1017.2,912.9 L1017.2,914.0 L1018.2,914.0 L1018.2,915.4 L1019.2,915.4 L1019.2,914.5 L1020.2,914.5 L1020.2,915.3 L1021.2,915.3 L1021.2,915.8 L1022.2,915.8 L1022.2,914.8 L1023.2,914.8 L1023.2,913.3 L1024.2,913.3 L1024.2,914.9 L1025.2,914.9 L1025.2,915.4 L1026.2,915.4 L1026.2,914.2 L1027.2,914.2 L1027.2,915.6 L1028.2,915.6 L1028.2,913.2 L1029.2,913.2 L1029.2,914.2 L1030.2,914.2 L1030.2,914.7 L1031.2,914.7 L1031.2,916.0 L1032.2,916.0 L1032.2,914.8 L1033.2,914.8 L1033.2,914.9 L1034.2,914.9 L1034.2,915.7 L1035.2,915.7 L1035.2,911.9 L1036.2,911.9 L1036.2,913.9 L1037.2,913.9 L1037.2,915.7 L1038.2,915.7 L1038.2,915.1 L1039.2,915.1 L1039.2,915.6 L1040.2,915.6 L1040.2,915.6 L1041.2,915.6 L1041.2,914.8 L1042.2,914.8 L1042.2,916.1 L1043.2,916.1 L1043.2,914.8 L1044.2,914.8 L1044.2,915.2 L1045.2,915.2 L1045.2,911.8 L1046.2,911.8 L1046.2,912.9 L1047.2,912.9 L1047.2,914.3 L1048.2,914.3 L1048.2,913.9 L1049.2,913.9 L1049.2,916.0 L1050.2,916.0 L1050.2,915.2 L1051.2,915.2 L1051.2,914.0 L1052.2,914.0 L1052.2,914.1 L1053.2,914.1 L1053.2,914.7 L1054.2,914.7 L1054.2,915.3 L1055.2,915.3 L1055.2,915.1 L1056.2,915.1 L1056.2,913.2 L1057.2,913.2 L1057.2,915.8 L1058.2,915.8 L1058.2,914.4 L1059.2,914.4 L1059.2,912.1 L1060.2,912.1 L1060.2,912.4 L1061.2,912.4 L1061.2,913.8 L1062.2,913.8 L1062.2,914.7 L1063.2,914.7 L1063.2,912.3 L1063.2,937.8 L1063.2,938.7 L1062.2,938.7 L1062.2,937.4 L1061.2,937.4 L1061.2,937.6 L1060.2,937.6 L1060.2,935.0 L1059.2,935.0 L1059.2,935.0 L1058.2,935.0 L1058.2,937.7 L1057.2,937.7 L1057.2,938.3 L1056.2,938.3 L1056.2,937.5 L1055.2,937.5 L1055.2,938.2 L1054.2,938.2 L1054.2,938.3 L1053.2,938.3 L1053.2,938.6 L1052.2,938.6 L1052.2,938.4 L1051.2,938.4 L1051.2,937.5 L1050.2,937.5 L1050.2,938.4 L1049.2,938.4 L1049.2,937.7 L1048.2,937.7 L1048.2,937.9 L1047.2,937.9 L1047.2,935.1 L1046.2,935.1 L1046.2,937.4 L1045.2,937.4 L1045.2,938.3 L1044.2,938.3 L1044.2,937.7 L1043.2,937.7 L1043.2,937.9 L1042.2,937.9 L1042.2,937.5 L1041.2,937.5 L1041.2,938.5 L1040.2,938.5 L1040.2,938.0 L1039.2,938.0 L1039.2,938.5 L1038.2,938.5 L1038.2,938.5 L1037.2,938.5 L1037.2,937.5 L1036.2,937.5 L1036.2,938.3 L1035.2,938.3 L1035.2,937.5 L1034.2,937.5 L1034.2,938.3 L1033.2,938.3 L1033.2,939.9 L1032.2,939.9 L1032.2,939.9 L1031.2,939.9 L1031.2,938.5 L1030.2,938.5 L1030.2,938.7 L1029.2,938.7 L1029.2,938.1 L1028.2,938.1 L1028.2,934.4 L1027.2,934.4 L1027.2,934.4 L1026.2,934.4 L1026.2,938.4 L1025.2,938.4 L1025.2,938.2 L1024.2,938.2 L1024.2,938.0 L1023.2,938.0 L1023.2,937.8 L1022.2,937.8 L1022.2,938.4 L1021.2,938.4 L1021.2,938.1 L1020.2,938.1 L1020.2,935.8 L1019.2,935.8 L1019.2,935.8 L1018.2,935.8 L1018.2,938.5 L1017.2,938.5 L1017.2,937.9 L1016.2,937.9 L1016.2,938.2 L1015.2,938.2 L1015.2,937.5 L1014.2,937.5 L1014.2,938.4 L1013.2,938.4 L1013.2,939.4 L1012.2,939.4 L1012.2,939.4 L1011.2,939.4 L1011.2,937.9 L1010.2,937.9 L1010.2,937.6 L1009.2,937.6 L1009.2,937.7 L1008.2,937.7 L1008.2,938.6 L1007.2,938.6 L1007.2,937.8 L1006.2,937.8 L1006.2,937.4 L1005.2,937.4 L1005.2,937.5 L1004.2,937.5 L1004.2,937.5 L1003.2,937.5 L1003.2,938.0 L1002.2,938.0 L1002.2,937.8 L1001.2,937.8 L1001.2,938.5 L1000.2,938.5 L1000.2,937.5 L999.2,937.5 L999.2,938.3 L998.2,938.3 L998.2,938.6 L997.2,938.6 L997.2,938.2 L996.2,938.2 L996.2,938.2 L995.2,938.2 L995.2,937.9 L994.2,937.9 L994.2,937.7 L993.2,937.7 L993.2,937.7 L992.2,937.7 L992.2,938.3 L991.2,938.3 L991.2,937.4 L990.2,937.4 L990.2,938.1 L989.2,938.1 L989.2,934.2 L988.2,934.2 L988.2,934.2 L987.2,934.2 L987.2,935.7 L986.2,935.7 L986.2,938.3 L985.2,938.3 L985.2,938.5 L984.2,938.5 L984.2,939.6 L983.2,939.6 L983.2,939.6 L982.2,939.6 L982.2,934.4 L981.2,934.4 L981.2,934.4 L980.2,934.4 L980.2,938.7 L979.2,938.7 L979.2,934.9 L978.2,934.9 L978.2,934.9 L977.2,934.9 L977.2,938.4 L976.2,938.4 L976.2,938.3 L975.2,938.3 L975.2,937.7 L974.2,937.7 L974.2,937.7 L973.2,937.7 L973.2,938.0 L972.2,938.0 L972.2,937.7 L971.2,937.7 L971.2,937.5 L970.2,937.5 L970.2,938.4 L969.2,938.4 L969.2,938.7 L968.2,938.7 L968.2,938.3 L967.2,938.3 L967.2,938.1 L966.2,938.1 L966.2,937.4 L965.2,937.4 L965.2,937.3 L964.2,937.3 L964.2,938.7 L963.2,938.7 L963.2,938.1 L962.2,938.1 L962.2,938.5 L961.2,938.5 L961.2,937.7 L960.2,937.7 L960.2,938.5 L959.2,938.5 L959.2,937.8 L958.2,937.8 L958.2,937.5 L957.2,937.5 L957.2,937.8 L956.2,937.8 L956.2,937.8 L955.2,937.8 L955.2,937.6 L954.2,937.6 L954.2,938.1 L953.2,938.1 L953.2,938.5 L952.2,938.5 L952.2,935.7 L951.2,935.7 L951.2,935.7 L950.2,935.7 L950.2,938.0 L949.2,938.0 L949.2,937.4 L948.2,937.4 L948.2,937.5 L947.2,937.5 L947.2,937.9 L946.2,937.9 L946.2,938.5 L945.2,938.5 L945.2,938.1 L944.2,938.1 L944.2,937.7 L943.2,937.7 L943.2,938.6 L942.2,938.6 L942.2,938.4 L941.2,938.4 L941.2,937.6 L940.2,937.6 L940.2,937.8 L939.2,937.8 L939.2,938.4 L938.2,938.4 L938.2,937.9 L937.2,937.9 L937.2,937.4 L936.2,937.4 L936.2,938.6 L935.2,938.6 L935.2,938.5 L934.2,938.5 L934.2,938.1 L933.2,938.1 L933.2,938.5 L932.2,938.5 L932.2,940.5 L931.2,940.5 L931.2,940.5 L930.2,940.5 L930.2,938.6 L929.2,938.6 L929.2,938.6 L928.2,938.6 L928.2,938.5 L927.2,938.5 L927.2,938.5 L926.2,938.5 L926.2,938.1 L925.2,938.1 L925.2,938.5 L924.2,938.5 L924.2,938.6 L923.2,938.6 L923.2,938.5 L922.2,938.5 L922.2,938.3 L921.2,938.3 L921.2,938.7 L920.2,938.7 L920.2,937.8 L919.2,937.8 L919.2,937.4 L918.2,937.4 L918.2,938.5 L917.2,938.5 L917.2,937.6 L916.2,937.6 L916.2,938.4 L915.2,938.4 L915.2,935.2 L914.2,935.2 L914.2,935.2 L913.2,935.2 L913.2,936.5 L912.2,936.5 L912.2,936.5 L911.2,936.5 L911.2,938.3 L910.2,938.3 L910.2,938.6 L909.2,938.6 L909.2,938.4 L908.2,938.4 L908.2,937.5 L907.2,937.5 L907.2,937.5 L906.2,937.5 L906.2,937.3 L905.2,937.3 L905.2,934.1 L904.2,934.1 L904.2,934.1 L903.2,934.1 L903.2,940.1 L902.2,940.1 L902.2,937.7 L901.2,937.7 L901.2,938.4 L900.2,938.4 L900.2,937.4 L899.2,937.4 L899.2,937.4 L898.2,937.4 L898.2,938.4 L897.2,938.4 L897.2,938.4 L896.2,938.4 L896.2,939.9 L895.2,939.9 L895.2,938.5 L894.2,938.5 L894.2,938.0 L893.2,938.0 L893.2,937.3 L892.2,937.3 L892.2,937.5 L891.2,937.5 L891.2,937.6 L890.2,937.6 L890.2,939.1 L889.2,939.1 L889.2,937.4 L888.2,937.4 L888.2,938.0 L887.2,938.0 L887.2,938.6 L886.2,938.6 L886.2,938.1 L885.2,938.1 L885.2,938.6 L884.2,938.6 L884.2,937.4 L883.2,937.4 L883.2,939.7 L882.2,939.7 L882.2,938.1 L881.2,938.1 L881.2,939.4 L880.2,939.4 L880.2,937.7 L879.2,937.7 L879.2,939.0 L878.2,939.0 L878.2,939.0 L877.2,939.0 L877.2,938.2 L876.2,938.2 L876.2,940.1 L875.2,940.1 L875.2,938.5 L874.2,938.5 L874.2,940.0 L873.2,940.0 L873.2,936.4 L872.2,936.4 L872.2,936.4 L871.2,936.4 L871.2,937.9 L870.2,937.9 L870.2,937.5 L869.2,937.5 L869.2,937.9 L868.2,937.9 L868.2,938.4 L867.2,938.4 L867.2,937.5 L866.2,937.5 L866.2,937.8 L865.2,937.8 L865.2,935.7 L864.2,935.7 L864.2,935.7 L863.2,935.7 L863.2,938.2 L862.2,938.2 L862.2,939.0 L861.2,939.0 L861.2,938.1 L860.2,938.1 L860.2,938.1 L859.2,938.1 L859.2,938.4 L858.2,938.4 L858.2,939.2 L857.2,939.2 L857.2,939.2 L856.2,939.2 L856.2,938.1 L855.2,938.1 L855.2,938.5 L854.2,938.5 L854.2,937.4 L853.2,937.4 L853.2,938.0 L852.2,938.0 L852.2,937.8 L851.2,937.8 L851.2,938.0 L850.2,938.0 L850.2,938.7 L849.2,938.7 L849.2,935.6 L848.2,935.6 L848.2,935.6 L847.2,935.6 L847.2,937.9 L846.2,937.9 L846.2,937.6 L845.2,937.6 L845.2,937.6 L844.2,937.6 L844.2,938.2 L843.2,938.2 L843.2,935.6 L842.2,935.6 L842.2,935.6 L841.2,935.6 L841.2,937.8 L840.2,937.8 L840.2,938.4 L839.2,938.4 L839.2,938.5 L838.2,938.5 L838.2,938.6 L837.2,938.6 L837.2,938.1 L836.2,938.1 L836.2,938.1 L835.2,938.1 L835.2,937.7 L834.2,937.7 L834.2,937.4 L833.2,937.4 L833.2,937.4 L832.2,937.4 L832.2,938.3 L831.2,938.3 L831.2,937.7 L830.2,937.7 L830.2,939.1 L829.2,939.1 L829.2,937.6 L828.2,937.6 L828.2,938.0 L827.2,938.0 L827.2,938.4 L826.2,938.4 L826.2,938.0 L825.2,938.0 L825.2,938.3 L824.2,938.3 L824.2,937.6 L823.2,937.6 L823.2,938.3 L822.2,938.3 L822.2,937.3 L821.2,937.3 L821.2,938.4 L820.2,938.4 L820.2,937.5 L819.2,937.5 L819.2,938.5 L818.2,938.5 L818.2,937.6 L817.2,937.6 L817.2,938.3 L816.2,938.3 L816.2,938.2 L815.2,938.2 L815.2,937.6 L814.2,937.6 L814.2,937.9 L813.2,937.9 L813.2,937.3 L812.2,937.3 L812.2,936.3 L811.2,936.3 L811.2,936.3 L810.2,936.3 L810.2,938.3 L809.2,938.3 L809.2,938.3 L808.2,938.3 L808.2,937.8 L807.2,937.8 L807.2,937.5 L806.2,937.5 L806.2,938.2 L805.2,938.2 L805.2,935.2 L804.2,935.2 L804.2,935.2 L803.2,935.2 L803.2,937.6 L802.2,937.6 L802.2,938.5 L801.2,938.5 L801.2,938.5 L800.2,938.5 L800.2,937.4 L799.2,937.4 L799.2,938.0 L798.2,938.0 L798.2,938.5 L797.2,938.5 L797.2,937.7 L796.2,937.7 L796.2,937.7 L795.2,937.7 L795.2,937.3 L794.2,937.3 L794.2,937.8 L793.2,937.8 L793.2,938.5 L792.2,938.5 L792.2,938.7 L791.2,938.7 L791.2,937.9 L790.2,937.9 L790.2,937.4 L789.2,937.4 L789.2,938.3 L788.2,938.3 L788.2,937.4 L787.2,937.4 L787.2,939.1 L786.2,939.1 L786.2,940.3 L785.2,940.3 L785.2,937.9 L784.2,937.9 L784.2,937.8 L783.2,937.8 L783.2,938.6 L782.2,938.6 L782.2,937.6 L781.2,937.6 L781.2,937.3 L780.2,937.3 L780.2,937.5 L779.2,937.5 L779.2,937.4 L778.2,937.4 L778.2,938.7 L777.2,938.7 L777.2,938.3 L776.2,938.3 L776.2,935.0 L775.2,935.0 L775.2,935.0 L774.2,935.0 L774.2,938.4 L773.2,938.4 L773.2,938.0 L772.2,938.0 L772.2,939.7 L771.2,939.7 L771.2,939.7 L770.2,939.7 L770.2,936.0 L769.2,936.0 L769.2,938.1 L768.2,938.1 L768.2,938.7 L767.2,938.7 L767.2,937.5 L766.2,937.5 L766.2,937.6 L765.2,937.6 L765.2,938.2 L764.2,938.2 L764.2,938.7 L763.2,938.7 L763.2,937.4 L762.2,937.4 L762.2,938.3 L761.2,938.3 L761.2,938.4 L760.2,938.4 L760.2,938.6 L759.2,938.6 L759.2,937.4 L758.2,937.4 L758.2,938.0 L757.2,938.0 L757.2,937.7 L756.2,937.7 L756.2,938.6 L755.2,938.6 L755.2,936.1 L754.2,936.1 L754.2,936.1 L753.2,936.1 L753.2,938.1 L752.2,938.1 L752.2,937.3 L751.2,937.3 L751.2,937.8 L750.2,937.8 L750.2,937.6 L749.2,937.6 L749.2,937.8 L748.2,937.8 L748.2,937.5 L747.2,937.5 L747.2,938.4 L746.2,938.4 L746.2,937.9 L745.2,937.9 L745.2,939.6 L744.2,939.6 L744.2,939.6 L743.2,939.6 L743.2,937.9 L742.2,937.9 L742.2,938.4 L741.2,938.4 L741.2,937.4 L740.2,937.4 L740.2,937.5 L739.2,937.5 L739.2,935.5 L738.2,935.5 L738.2,935.5 L737.2,935.5 L737.2,938.5 L736.2,938.5 L736.2,938.5 L735.2,938.5 L735.2,937.9 L734.2,937.9 L734.2,937.5 L733.2,937.5 L733.2,938.4 L732.2,938.4 L732.2,938.0 L731.2,938.0 L731.2,938.6 L730.2,938.6 L730.2,937.6 L729.2,937.6 L729.2,938.0 L728.2,938.0 L728.2,938.0 L727.2,938.0 L727.2,937.7 L726.2,937.7 L726.2,937.6 L725.2,937.6 L725.2,938.2 L724.2,938.2 L724.2,938.2 L723.2,938.2 L723.2,934.1 L722.2,934.1 L722.2,934.1 L721.2,934.1 L721.2,937.8 L720.2,937.8 L720.2,938.4 L719.2,938.4 L719.2,937.8 L718.2,937.8 L718.2,937.8 L717.2,937.8 L717.2,938.2 L716.2,938.2 L716.2,938.1 L715.2,938.1 L715.2,938.2 L714.2,938.2 L714.2,938.3 L713.2,938.3 L713.2,937.9 L712.2,937.9 L712.2,937.3 L711.2,937.3 L711.2,937.4 L710.2,937.4 L710.2,938.5 L709.2,938.5 L709.2,938.3 L708.2,938.3 L708.2,935.0 L707.2,935.0 L707.2,935.0 L706.2,935.0 L706.2,938.7 L705.2,938.7 L705.2,937.9 L704.2,937.9 L704.2,937.8 L703.2,937.8 L703.2,937.9 L702.2,937.9 L702.2,937.9 L701.2,937.9 L701.2,938.5 L700.2,938.5 L700.2,938.3 L699.2,938.3 L699.2,935.4 L698.2,935.4 L698.2,935.4 L697.2,935.4 L697.2,937.8 L696.2,937.8 L696.2,938.6 L695.2,938.6 L695.2,935.2 L694.2,935.2 L694.2,935.2 L693.2,935.2 L693.2,937.4 L692.2,937.4 L692.2,937.5 L691.2,937.5 L691.2,938.3 L690.2,938.3 L690.2,938.7 L689.2,938.7 L689.2,937.8 L688.2,937.8 L688.2,938.0 L687.2,938.0 L687.2,937.5 L686.2,937.5 L686.2,938.3 L685.2,938.3 L685.2,935.9 L684.2,935.9 L684.2,935.9 L683.2,935.9 L683.2,938.0 L682.2,938.0 L682.2,936.2 L681.2,936.2 L681.2,936.2 L680.2,936.2 L680.2,939.0 L679.2,939.0 L679.2,939.0 L678.2,939.0 L678.2,937.9 L677.2,937.9 L677.2,936.2 L676.2,936.2 L676.2,936.2 L675.2,936.2 L675.2,938.2 L674.2,938.2 L674.2,938.1 L673.2,938.1 L673.2,937.8 L672.2,937.8 L672.2,938.2 L671.2,938.2 L671.2,937.9 L670.2,937.9 L670.2,938.0 L669.2,938.0 L669.2,937.8 L668.2,937.8 L668.2,937.7 L667.2,937.7 L667.2,936.2 L666.2,936.2 L666.2,937.7 L665.2,937.7 L665.2,938.5 L664.2,938.5 L664.2,938.5 L663.2,938.5 L663.2,937.8 L662.2,937.8 L662.2,937.6 L661.2,937.6 L661.2,938.1 L660.2,938.1 L660.2,938.1 L659.2,938.1 L659.2,937.5 L658.2,937.5 L658.2,938.0 L657.2,938.0 L657.2,937.7 L656.2,937.7 L656.2,938.4 L655.2,938.4 L655.2,938.5 L654.2,938.5 L654.2,937.5 L653.2,937.5 L653.2,937.6 L652.2,937.6 L652.2,937.7 L651.2,937.7 L651.2,938.4 L650.2,938.4 L650.2,937.6 L649.2,937.6 L649.2,936.4 L648.2,936.4 L648.2,936.4 L647.2,936.4 L647.2,938.5 L646.2,938.5 L646.2,937.8 L645.2,937.8 L645.2,937.8 L644.2,937.8 L644.2,937.8 L643.2,937.8 L643.2,938.6 L642.2,938.6 L642.2,937.3 L641.2,937.3 L641.2,937.3 L640.2,937.3 L640.2,937.6 L639.2,937.6 L639.2,938.6 L638.2,938.6 L638.2,937.6 L637.2,937.6 L637.2,937.9 L636.2,937.9 L636.2,937.8 L635.2,937.8 L635.2,938.4 L634.2,938.4 L634.2,938.5 L633.2,938.5 L633.2,938.3 L632.2,938.3 L632.2,937.7 L631.2,937.7 L631.2,937.6 L630.2,937.6 L630.2,936.2 L629.2,936.2 L629.2,937.4 L628.2,937.4 L628.2,937.6 L627.2,937.6 L627.2,937.8 L626.2,937.8 L626.2,938.2 L625.2,938.2 L625.2,937.3 L624.2,937.3 L624.2,938.6 L623.2,938.6 L623.2,937.7 L622.2,937.7 L622.2,938.7 L621.2,938.7 L621.2,937.7 L620.2,937.7 L620.2,938.4 L619.2,938.4 L619.2,937.7 L618.2,937.7 L618.2,937.8 L617.2,937.8 L617.2,938.2 L616.2,938.2 L616.2,938.1 L615.2,938.1 L615.2,937.9 L614.2,937.9 L614.2,937.4 L613.2,937.4 L613.2,936.0 L612.2,936.0 L612.2,936.0 L611.2,936.0 L611.2,937.5 L610.2,937.5 L610.2,938.3 L609.2,938.3 L609.2,937.7 L608.2,937.7 L608.2,934.2 L607.2,934.2 L607.2,934.2 L606.2,934.2 L606.2,937.9 L605.2,937.9 L605.2,938.1 L604.2,938.1 L604.2,937.8 L603.2,937.8 L603.2,937.4 L602.2,937.4 L602.2,937.4 L601.2,937.4 L601.2,938.3 L600.2,938.3 L600.2,938.2 L599.2,938.2 L599.2,937.8 L598.2,937.8 L598.2,935.7 L597.2,935.7 L597.2,938.2 L596.2,938.2 L596.2,937.3 L595.2,937.3 L595.2,940.2 L594.2,940.2 L594.2,940.2 L593.2,940.2 L593.2,938.1 L592.2,938.1 L592.2,938.3 L591.2,938.3 L591.2,938.2 L590.2,938.2 L590.2,938.1 L589.2,938.1 L589.2,936.4 L588.2,936.4 L588.2,936.4 L587.2,936.4 L587.2,937.6 L586.2,937.6 L586.2,938.4 L585.2,938.4 L585.2,938.6 L584.2,938.6 L584.2,937.7 L583.2,937.7 L583.2,938.6 L582.2,938.6 L582.2,938.3 L581.2,938.3 L581.2,938.0 L580.2,938.0 L580.2,937.7 L579.2,937.7 L579.2,938.6 L578.2,938.6 L578.2,937.4 L577.2,937.4 L577.2,938.2 L576.2,938.2 L576.2,937.7 L575.2,937.7 L575.2,937.5 L574.2,937.5 L574.2,938.6 L573.2,938.6 L573.2,937.9 L572.2,937.9 L572.2,938.2 L571.2,938.2 L571.2,937.6 L570.2,937.6 L570.2,938.7 L569.2,938.7 L569.2,938.6 L568.2,938.6 L568.2,938.4 L567.2,938.4 L567.2,935.7 L566.2,935.7 L566.2,935.7 L565.2,935.7 L565.2,937.9 L564.2,937.9 L564.2,937.8 L563.2,937.8 L563.2,938.0 L562.2,938.0 L562.2,938.4 L561.2,938.4 L561.2,938.3 L560.2,938.3 L560.2,938.5 L559.2,938.5 L559.2,937.7 L558.2,937.7 L558.2,938.2 L557.2,938.2 L557.2,938.4 L556.2,938.4 L556.2,935.1 L555.2,935.1 L555.2,938.7 L554.2,938.7 L554.2,938.0 L553.2,938.0 L553.2,934.0 L552.2,934.0 L552.2,934.0 L551.2,934.0 L551.2,937.8 L550.2,937.8 L550.2,938.3 L549.2,938.3 L549.2,938.2 L548.2,938.2 L548.2,937.6 L547.2,937.6 L547.2,938.0 L546.2,938.0 L546.2,937.7 L545.2,937.7 L545.2,938.0 L544.2,938.0 L544.2,938.3 L543.2,938.3 L543.2,937.6 L542.2,937.6 L542.2,937.5 L541.2,937.5 L541.2,939.5 L540.2,939.5 L540.2,938.2 L539.2,938.2 L539.2,937.9 L538.2,937.9 L538.2,937.5 L537.2,937.5 L537.2,937.8 L536.2,937.8 L536.2,938.4 L535.2,938.4 L535.2,934.4 L534.2,934.4 L534.2,938.0 L533.2,938.0 L533.2,935.6 L532.2,935.6 L532.2,938.6 L531.2,938.6 L531.2,938.3 L530.2,938.3 L530.2,938.5 L529.2,938.5 L529.2,937.8 L528.2,937.8 L528.2,937.7 L527.2,937.7 L527.2,939.4 L526.2,939.4 L526.2,939.0 L525.2,939.0 L525.2,934.0 L524.2,934.0 L524.2,934.0 L523.2,934.0 L523.2,938.3 L522.2,938.3 L522.2,937.6 L521.2,937.6 L521.2,937.3 L520.2,937.3 L520.2,937.8 L519.2,937.8 L519.2,935.0 L518.2,935.0 L518.2,938.3 L517.2,938.3 L517.2,938.3 L516.2,938.3 L516.2,937.5 L515.2,937.5 L515.2,938.3 L514.2,938.3 L514.2,937.8 L513.2,937.8 L513.2,937.5 L512.2,937.5 L512.2,938.6 L511.2,938.6 L511.2,940.5 L510.2,940.5 L510.2,938.6 L509.2,938.6 L509.2,937.5 L508.2,937.5 L508.2,934.7 L507.2,934.7 L507.2,937.4 L506.2,937.4 L506.2,939.6 L505.2,939.6 L505.2,938.0 L504.2,938.0 L504.2,938.7 L503.2,938.7 L503.2,938.3 L502.2,938.3 L502.2,938.0 L501.2,938.0 L501.2,938.2 L500.2,938.2 L500.2,938.5 L499.2,938.5 L499.2,938.0 L498.2,938.0 L498.2,938.4 L497.2,938.4 L497.2,938.5 L496.2,938.5 L496.2,938.6 L495.2,938.6 L495.2,938.3 L494.2,938.3 L494.2,937.9 L493.2,937.9 L493.2,938.3 L492.2,938.3 L492.2,937.6 L491.2,937.6 L491.2,938.5 L490.2,938.5 L490.2,938.3 L489.2,938.3 L489.2,938.7 L488.2,938.7 L488.2,937.7 L487.2,937.7 L487.2,937.6 L486.2,937.6 L486.2,938.6 L485.2,938.6 L485.2,938.1 L484.2,938.1 L484.2,938.3 L483.2,938.3 L483.2,936.0 L482.2,936.0 L482.2,936.0 L481.2,936.0 L481.2,938.5 L480.2,938.5 L480.2,937.7 L479.2,937.7 L479.2,938.0 L478.2,938.0 L478.2,938.1 L477.2,938.1 L477.2,938.2 L476.2,938.2 L476.2,937.4 L475.2,937.4 L475.2,938.2 L474.2,938.2 L474.2,938.7 L473.2,938.7 L473.2,938.6 L472.2,938.6 L472.2,937.9 L471.2,937.9 L471.2,937.4 L470.2,937.4 L470.2,937.8 L469.2,937.8 L469.2,937.9 L468.2,937.9 L468.2,937.5 L467.2,937.5 L467.2,934.1 L466.2,934.1 L466.2,937.4 L465.2,937.4 L465.2,939.1 L464.2,939.1 L464.2,939.1 L463.2,939.1 L463.2,937.5 L462.2,937.5 L462.2,938.5 L461.2,938.5 L461.2,937.3 L460.2,937.3 L460.2,937.6 L459.2,937.6 L459.2,939.1 L458.2,939.1 L458.2,939.1 L457.2,939.1 L457.2,938.7 L456.2,938.7 L456.2,937.5 L455.2,937.5 L455.2,937.4 L454.2,937.4 L454.2,937.7 L453.2,937.7 L453.2,938.0 L452.2,938.0 L452.2,938.6 L451.2,938.6 L451.2,940.2 L450.2,940.2 L450.2,940.2 L449.2,940.2 L449.2,937.4 L448.2,937.4 L448.2,938.5 L447.2,938.5 L447.2,937.5 L446.2,937.5 L446.2,937.8 L445.2,937.8 L445.2,937.8 L444.2,937.8 L444.2,937.7 L443.2,937.7 L443.2,937.4 L442.2,937.4 L442.2,938.6 L441.2,938.6 L441.2,938.6 L440.2,938.6 L440.2,937.5 L439.2,937.5 L439.2,937.3 L438.2,937.3 L438.2,937.4 L437.2,937.4 L437.2,938.3 L436.2,938.3 L436.2,938.2 L435.2,938.2 L435.2,937.4 L434.2,937.4 L434.2,937.8 L433.2,937.8 L433.2,938.0 L432.2,938.0 L432.2,938.2 L431.2,938.2 L431.2,938.3 L430.2,938.3 L430.2,938.3 L429.2,938.3 L429.2,938.7 L428.2,938.7 L428.2,937.4 L427.2,937.4 L427.2,937.7 L426.2,937.7 L426.2,939.5 L425.2,939.5 L425.2,939.5 L424.2,939.5 L424.2,937.9 L423.2,937.9 L423.2,937.6 L422.2,937.6 L422.2,937.4 L421.2,937.4 L421.2,937.8 L420.2,937.8 L420.2,937.5 L419.2,937.5 L419.2,938.4 L418.2,938.4 L418.2,938.1 L417.2,938.1 L417.2,937.5 L416.2,937.5 L416.2,938.1 L415.2,938.1 L415.2,937.8 L414.2,937.8 L414.2,937.5 L413.2,937.5 L413.2,937.7 L412.2,937.7 L412.2,938.6 L411.2,938.6 L411.2,938.0 L410.2,938.0 L410.2,937.6 L409.2,937.6 L409.2,938.3 L408.2,938.3 L408.2,940.0 L407.2,940.0 L407.2,937.8 L406.2,937.8 L406.2,938.6 L405.2,938.6 L405.2,937.6 L404.2,937.6 L404.2,937.5 L403.2,937.5 L403.2,938.1 L402.2,938.1 L402.2,938.6 L401.2,938.6 L401.2,938.0 L400.2,938.0 L400.2,938.5 L399.2,938.5 L399.2,934.8 L398.2,934.8 L398.2,934.8 L397.2,934.8 L397.2,937.9 L396.2,937.9 L396.2,938.5 L395.2,938.5 L395.2,938.3 L394.2,938.3 L394.2,937.9 L393.2,937.9 L393.2,937.4 L392.2,937.4 L392.2,938.5 L391.2,938.5 L391.2,937.9 L390.2,937.9 L390.2,937.4 L389.2,937.4 L389.2,935.7 L388.2,935.7 L388.2,935.7 L387.2,935.7 L387.2,938.3 L386.2,938.3 L386.2,938.3 L385.2,938.3 L385.2,938.5 L384.2,938.5 L384.2,940.1 L383.2,940.1 L383.2,940.1 L382.2,940.1 L382.2,938.6 L381.2,938.6 L381.2,938.2 L380.2,938.2 L380.2,938.0 L379.2,938.0 L379.2,937.6 L378.2,937.6 L378.2,938.6 L377.2,938.6 L377.2,938.1 L376.2,938.1 L376.2,937.5 L375.2,937.5 L375.2,936.1 L374.2,936.1 L374.2,937.4 L373.2,937.4 L373.2,938.3 L372.2,938.3 L372.2,937.5 L371.2,937.5 L371.2,938.2 L370.2,938.2 L370.2,938.5 L369.2,938.5 L369.2,934.7 L368.2,934.7 L368.2,934.7 L367.2,934.7 L367.2,938.6 L366.2,938.6 L366.2,934.8 L365.2,934.8 L365.2,934.8 L364.2,934.8 L364.2,937.7 L363.2,937.7 L363.2,938.5 L362.2,938.5 L362.2,938.4 L361.2,938.4 L361.2,937.9 L360.2,937.9 L360.2,939.4 L359.2,939.4 L359.2,939.4 L358.2,939.4 L358.2,938.3 L357.2,938.3 L357.2,938.4 L356.2,938.4 L356.2,939.8 L355.2,939.8 L355.2,939.8 L354.2,939.8 L354.2,938.2 L353.2,938.2 L353.2,938.5 L352.2,938.5 L352.2,934.7 L351.2,934.7 L351.2,934.7 L350.2,934.7 L350.2,937.5 L349.2,937.5 L349.2,937.3 L348.2,937.3 L348.2,938.3 L347.2,938.3 L347.2,937.4 L346.2,937.4 L346.2,938.4 L345.2,938.4 L345.2,938.0 L344.2,938.0 L344.2,938.0 L343.2,938.0 L343.2,937.9 L342.2,937.9 L342.2,938.7 L341.2,938.7 L341.2,938.2 L340.2,938.2 L340.2,937.6 L339.2,937.6 L339.2,937.7 L338.2,937.7 L338.2,938.2 L337.2,938.2 L337.2,937.6 L336.2,937.6 L336.2,937.6 L335.2,937.6 L335.2,938.0 L334.2,938.0 L334.2,939.4 L333.2,939.4 L333.2,938.3 L332.2,938.3 L332.2,937.8 L331.2,937.8 L331.2,937.3 L330.2,937.3 L330.2,937.7 L329.2,937.7 L329.2,937.6 L328.2,937.6 L328.2,938.5 L327.2,938.5 L327.2,937.4 L326.2,937.4 L326.2,937.8 L325.2,937.8 L325.2,937.5 L324.2,937.5 L324.2,937.7 L323.2,937.7 L323.2,937.6 L322.2,937.6 L322.2,937.5 L321.2,937.5 L321.2,938.4 L320.2,938.4 L320.2,938.5 L319.2,938.5 L319.2,937.6 L318.2,937.6 L318.2,937.8 L317.2,937.8 L317.2,938.6 L316.2,938.6 L316.2,938.6 L315.2,938.6 L315.2,937.7 L314.2,937.7 L314.2,938.6 L313.2,938.6 L313.2,938.5 L312.2,938.5 L312.2,937.4 L311.2,937.4 L311.2,938.2 L310.2,938.2 L310.2,938.6 L309.2,938.6 L309.2,935.9 L308.2,935.9 L308.2,935.9 L307.2,935.9 L307.2,938.2 L306.2,938.2 L306.2,937.4 L305.2,937.4 L305.2,938.5 L304.2,938.5 L304.2,937.3 L303.2,937.3 L303.2,937.6 L302.2,937.6 L302.2,938.1 L301.2,938.1 L301.2,938.2 L300.2,938.2 L300.2,937.9 L299.2,937.9 L299.2,938.0 L298.2,938.0 L298.2,939.1 L297.2,939.1 L297.2,938.4 L296.2,938.4 L296.2,937.5 L295.2,937.5 L295.2,938.1 L294.2,938.1 L294.2,938.0 L293.2,938.0 L293.2,937.7 L292.2,937.7 L292.2,938.0 L291.2,938.0 L291.2,938.2 L290.2,938.2 L290.2,935.7 L289.2,935.7 L289.2,938.3 L288.2,938.3 L288.2,938.4 L287.2,938.4 L287.2,937.4 L286.2,937.4 L286.2,938.7 L285.2,938.7 L285.2,938.1 L284.2,938.1 L284.2,937.6 L283.2,937.6 L283.2,938.0 L282.2,938.0 L282.2,937.7 L281.2,937.7 L281.2,937.9 L280.2,937.9 L280.2,938.7 L279.2,938.7 L279.2,940.3 L278.2,940.3 L278.2,940.3 L277.2,940.3 L277.2,939.5 L276.2,939.5 L276.2,937.8 L275.2,937.8 L275.2,937.4 L274.2,937.4 L274.2,938.3 L273.2,938.3 L273.2,938.6 L272.2,938.6 L272.2,937.9 L271.2,937.9 L271.2,937.6 L270.2,937.6 L270.2,938.6 L269.2,938.6 L269.2,939.6 L268.2,939.6 L268.2,939.5 L267.2,939.5 L267.2,936.3 L266.2,936.3 L266.2,937.9 L265.2,937.9 L265.2,937.3 L264.2,937.3 L264.2,937.9 L263.2,937.9 L263.2,938.4 L262.2,938.4 L262.2,938.1 L261.2,938.1 L261.2,938.0 L260.2,938.0 L260.2,938.5 L259.2,938.5 L259.2,937.3 L258.2,937.3 L258.2,938.5 L257.2,938.5 L257.2,937.7 L256.2,937.7 L256.2,938.1 L255.2,938.1 L255.2,940.3 L254.2,940.3 L254.2,940.3 L253.2,940.3 L253.2,938.1 L252.2,938.1 L252.2,937.4 L251.2,937.4 L251.2,937.5 L250.2,937.5 L250.2,937.9 L249.2,937.9 L249.2,938.3 L248.2,938.3 L248.2,937.8 L247.2,937.8 L247.2,937.8 L246.2,937.8 L246.2,938.2 L245.2,938.2 L245.2,937.8 L244.2,937.8 L244.2,938.0 L243.2,938.0 L243.2,938.3 L242.2,938.3 L242.2,939.5 L241.2,939.5 L241.2,937.9 L240.2,937.9 L240.2,937.2 L239.2,937.2 L239.2,938.1 L238.2,938.1 L238.2,938.0 L237.2,938.0 L237.2,940.0 L236.2,940.0 L236.2,940.0 L235.2,940.0 L235.2,938.2 L234.2,938.2 L234.2,937.8 L233.2,937.8 L233.2,937.2 L232.2,937.2 L232.2,937.5 L231.2,937.5 L231.2,937.8 L230.2,937.8 L230.2,937.6 L229.2,937.6 L229.2,937.3 L228.2,937.3 L228.2,937.5 L227.2,937.5 L227.2,934.1 L226.2,934.1 L226.2,933.6 L225.2,933.6 L225.2,936.8 L224.2,936.8 L224.2,936.8 L223.2,936.8 L223.2,936.8 L222.2,936.8 L222.2,937.2 L221.2,937.2 L221.2,937.4 L220.2,937.4 L220.2,936.2 L219.2,936.2 L219.2,936.4 L218.2,936.4 L218.2,936.2 L217.2,936.2 L217.2,936.3 L216.2,936.3 L216.2,936.4 L215.2,936.4 L215.2,936.2 L214.2,936.2 L214.2,935.3 L213.2,935.3 L213.2,935.8 L212.2,935.8 L212.2,937.6 L211.2,937.6 L211.2,936.9 L210.2,936.9 L210.2,934.8 L209.2,934.8 L209.2,935.0 L208.2,935.0 L208.2,933.8 L207.2,933.8 L207.2,933.8 L206.2,933.8 L206.2,933.3 L205.2,933.3 L205.2,933.4 L204.2,933.4 L204.2,933.5 L203.2,933.5 L203.2,932.3 L202.2,932.3 L202.2,931.8 L201.2,931.8 L201.2,930.4 L200.2,930.4 L200.2,928.7 L199.2,928.7 L199.2,930.9 L198.2,930.9 L198.2,928.6 L197.2,928.6 L197.2,925.3 L196.2,925.3 L196.2,925.3 L195.2,925.3 L195.2,922.4 L194.2,922.4 L194.2,925.7 L193.2,925.7 L193.2,922.3 L192.2,922.3 L192.2,922.1 L191.2,922.1 L191.2,920.4 L190.2,920.4 L190.2,916.2 L189.2,916.2 L189.2,918.3 L188.2,918.3 L188.2,913.0 L187.2,913.0 L187.2,912.6 L186.2,912.6 L186.2,913.2 L185.2,913.2 L185.2,905.6 L184.2,905.6 L184.2,906.2 L183.2,906.2 L183.2,906.2 L182.2,906.2 L182.2,897.2 L181.2,897.2 L181.2,897.1 L180.2,897.1 L180.2,887.0 L179.2,887.0 L179.2,886.3 L178.2,886.3 L178.2,886.3 L177.2,886.3 L177.2,874.3 L176.2,874.3 L176.2,874.0 L175.2,874.0 L175.2,859.3 L174.2,859.3 L174.2,858.4 L173.2,858.4 L173.2,858.7 L172.2,858.7 L172.2,857.2 L171.2,857.2 L171.2,857.1 L170.2,857.1 L170.2,857.2 L169.2,857.2Z" fill="#59a41b"/>
<path d="M169.2,843.2 L170.2,843.2 L170.2,843.1 L171.2,843.1 L171.2,843.2 L172.2,843.2 L172.2,844.7 L173.2,844.7 L173.2,844.4 L174.2,844.4 L174.2,845.3 L175.2,845.3 L175.2,860.0 L176.2,860.0 L176.2,860.3 L177.2,860.3 L177.2,872.3 L178.2,872.3 L178.2,872.3 L179.2,872.3 L179.2,873.0 L180.2,873.0 L180.2,883.1 L181.2,883.1 L181.2,883.2 L182.2,883.2 L182.2,892.2 L183.2,892.2 L183.2,892.2 L184.2,892.2 L184.2,891.6 L185.2,891.6 L185.2,899.2 L186.2,899.2 L186.2,898.6 L187.2,898.6 L187.2,899.0 L188.2,899.0 L188.2,904.3 L189.2,904.3 L189.2,902.2 L190.2,902.2 L190.2,906.4 L191.2,906.4 L191.2,908.1 L192.2,908.1 L192.2,908.3 L193.2,908.3 L193.2,911.7 L194.2,911.7 L194.2,908.4 L195.2,908.4 L195.2,911.3 L196.2,911.3 L196.2,911.3 L197.2,911.3 L197.2,914.6 L198.2,914.6 L198.2,916.9 L199.2,916.9 L199.2,914.7 L200.2,914.7 L200.2,916.4 L201.2,916.4 L201.2,917.8 L202.2,917.8 L202.2,918.3 L203.2,918.3 L203.2,919.5 L204.2,919.5 L204.2,919.4 L205.2,919.4 L205.2,919.3 L206.2,919.3 L206.2,919.8 L207.2,919.8 L207.2,919.8 L208.2,919.8 L208.2,921.0 L209.2,921.0 L209.2,920.8 L210.2,920.8 L210.2,922.9 L211.2,922.9 L211.2,923.6 L212.2,923.6 L212.2,921.8 L213.2,921.8 L213.2,921.3 L214.2,921.3 L214.2,922.2 L215.2,922.2 L215.2,922.4 L216.2,922.4 L216.2,922.3 L217.2,922.3 L217.2,922.2 L218.2,922.2 L218.2,922.4 L219.2,922.4 L219.2,922.2 L220.2,922.2 L220.2,923.4 L221.2,923.4 L221.2,923.2 L222.2,923.2 L222.2,922.8 L223.2,922.8 L223.2,922.8 L224.2,922.8 L224.2,922.8 L225.2,922.8 L225.2,919.6 L226.2,919.6 L226.2,920.1 L227.2,920.1 L227.2,923.5 L228.2,923.5 L228.2,923.3 L229.2,923.3 L229.2,923.6 L230.2,923.6 L230.2,923.8 L231.2,923.8 L231.2,923.5 L232.2,923.5 L232.2,923.2 L233.2,923.2 L233.2,923.8 L234.2,923.8 L234.2,924.2 L235.2,924.2 L235.2,926.0 L236.2,926.0 L236.2,926.0 L237.2,926.0 L237.2,924.0 L238.2,924.0 L238.2,924.1 L239.2,924.1 L239.2,923.2 L240.2,923.2 L240.2,923.9 L241.2,923.9 L241.2,925.5 L242.2,925.5 L242.2,924.3 L243.2,924.3 L243.2,924.0 L244.2,924.0 L244.2,923.8 L245.2,923.8 L245.2,924.2 L246.2,924.2 L246.2,923.8 L247.2,923.8 L247.2,923.8 L248.2,923.8 L248.2,924.3 L249.2,924.3 L249.2,923.9 L250.2,923.9 L250.2,923.5 L251.2,923.5 L251.2,923.4 L252.2,923.4 L252.2,924.1 L253.2,924.1 L253.2,926.3 L254.2,926.3 L254.2,926.3 L255.2,926.3 L255.2,924.1 L256.2,924.1 L256.2,923.7 L257.2,923.7 L257.2,924.5 L258.2,924.5 L258.2,923.3 L259.2,923.3 L259.2,924.5 L260.2,924.5 L260.2,924.0 L261.2,924.0 L261.2,924.1 L262.2,924.1 L262.2,924.4 L263.2,924.4 L263.2,923.9 L264.2,923.9 L264.2,923.3 L265.2,923.3 L265.2,923.9 L266.2,923.9 L266.2,922.3 L267.2,922.3 L267.2,925.5 L268.2,925.5 L268.2,925.6 L269.2,925.6 L269.2,924.6 L270.2,924.6 L270.2,923.6 L271.2,923.6 L271.2,923.9 L272.2,923.9 L272.2,924.6 L273.2,924.6 L273.2,924.3 L274.2,924.3 L274.2,923.4 L275.2,923.4 L275.2,923.8 L276.2,923.8 L276.2,925.5 L277.2,925.5 L277.2,926.3 L278.2,926.3 L278.2,926.3 L279.2,926.3 L279.2,924.7 L280.2,924.7 L280.2,923.9 L281.2,923.9 L281.2,923.7 L282.2,923.7 L282.2,924.0 L283.2,924.0 L283.2,923.6 L284.2,923.6 L284.2,924.1 L285.2,924.1 L285.2,924.7 L286.2,924.7 L286.2,923.4 L287.2,923.4 L287.2,924.4 L288.2,924.4 L288.2,924.3 L289.2,924.3 L289.2,921.7 L290.2,921.7 L290.2,924.2 L291.2,924.2 L291.2,924.0 L292.2,924.0 L292.2,923.7 L293.2,923.7 L293.2,924.0 L294.2,924.0 L294.2,924.1 L295.2,924.1 L295.2,923.5 L296.2,923.5 L296.2,924.4 L297.2,924.4 L297.2,925.1 L298.2,925.1 L298.2,924.0 L299.2,924.0 L299.2,923.9 L300.2,923.9 L300.2,924.2 L301.2,924.2 L301.2,924.1 L302.2,924.1 L302.2,923.6 L303.2,923.6 L303.2,923.3 L304.2,923.3 L304.2,924.5 L305.2,924.5 L305.2,923.4 L306.2,923.4 L306.2,924.2 L307.2,924.2 L307.2,921.9 L308.2,921.9 L308.2,921.9 L309.2,921.9 L309.2,924.6 L310.2,924.6 L310.2,924.2 L311.2,924.2 L311.2,923.4 L312.2,923.4 L312.2,924.5 L313.2,924.5 L313.2,924.6 L314.2,924.6 L314.2,923.7 L315.2,923.7 L315.2,924.6 L316.2,924.6 L316.2,924.6 L317.2,924.6 L317.2,923.8 L318.2,923.8 L318.2,923.6 L319.2,923.6 L319.2,924.5 L320.2,924.5 L320.2,924.4 L321.2,924.4 L321.2,923.5 L322.2,923.5 L322.2,923.6 L323.2,923.6 L323.2,923.7 L324.2,923.7 L324.2,923.5 L325.2,923.5 L325.2,923.8 L326.2,923.8 L326.2,923.4 L327.2,923.4 L327.2,924.5 L328.2,924.5 L328.2,923.6 L329.2,923.6 L329.2,923.7 L330.2,923.7 L330.2,923.3 L331.2,923.3 L331.2,923.8 L332.2,923.8 L332.2,924.3 L333.2,924.3 L333.2,925.4 L334.2,925.4 L334.2,924.0 L335.2,924.0 L335.2,923.6 L336.2,923.6 L336.2,923.6 L337.2,923.6 L337.2,924.2 L338.2,924.2 L338.2,923.7 L339.2,923.7 L339.2,923.6 L340.2,923.6 L340.2,924.2 L341.2,924.2 L341.2,924.7 L342.2,924.7 L342.2,923.9 L343.2,923.9 L343.2,924.0 L344.2,924.0 L344.2,924.0 L345.2,924.0 L345.2,924.4 L346.2,924.4 L346.2,923.4 L347.2,923.4 L347.2,924.3 L348.2,924.3 L348.2,923.3 L349.2,923.3 L349.2,923.5 L350.2,923.5 L350.2,920.7 L351.2,920.7 L351.2,920.7 L352.2,920.7 L352.2,924.5 L353.2,924.5 L353.2,924.2 L354.2,924.2 L354.2,925.8 L355.2,925.8 L355.2,925.8 L356.2,925.8 L356.2,924.4 L357.2,924.4 L357.2,924.3 L358.2,924.3 L358.2,925.4 L359.2,925.4 L359.2,925.4 L360.2,925.4 L360.2,923.9 L361.2,923.9 L361.2,924.4 L362.2,924.4 L362.2,924.5 L363.2,924.5 L363.2,923.7 L364.2,923.7 L364.2,920.8 L365.2,920.8 L365.2,920.8 L366.2,920.8 L366.2,924.6 L367.2,924.6 L367.2,920.7 L368.2,920.7 L368.2,920.7 L369.2,920.7 L369.2,924.5 L370.2,924.5 L370.2,924.2 L371.2,924.2 L371.2,923.5 L372.2,923.5 L372.2,924.3 L373.2,924.3 L373.2,923.4 L374.2,923.4 L374.2,922.1 L375.2,922.1 L375.2,923.5 L376.2,923.5 L376.2,924.1 L377.2,924.1 L377.2,924.6 L378.2,924.6 L378.2,923.6 L379.2,923.6 L379.2,924.0 L380.2,924.0 L380.2,924.2 L381.2,924.2 L381.2,924.6 L382.2,924.6 L382.2,926.1 L383.2,926.1 L383.2,926.1 L384.2,926.1 L384.2,924.5 L385.2,924.5 L385.2,924.3 L386.2,924.3 L386.2,924.3 L387.2,924.3 L387.2,921.7 L388.2,921.7 L388.2,921.7 L389.2,921.7 L389.2,923.4 L390.2,923.4 L390.2,923.9 L391.2,923.9 L391.2,924.5 L392.2,924.5 L392.2,923.4 L393.2,923.4 L393.2,923.9 L394.2,923.9 L394.2,924.3 L395.2,924.3 L395.2,924.5 L396.2,924.5 L396.2,923.9 L397.2,923.9 L397.2,920.8 L398.2,920.8 L398.2,920.8 L399.2,920.8 L399.2,924.5 L400.2,924.5 L400.2,924.0 L401.2,924.0 L401.2,924.6 L402.2,924.6 L402.2,924.1 L403.2,924.1 L403.2,923.5 L404.2,923.5 L404.2,923.6 L405.2,923.6 L405.2,924.6 L406.2,924.6 L406.2,923.8 L407.2,923.8 L407.2,926.0 L408.2,926.0 L408.2,924.3 L409.2,924.3 L409.2,923.6 L410.2,923.6 L410.2,924.0 L411.2,924.0 L411.2,924.6 L412.2,924.6 L412.2,923.7 L413.2,923.7 L413.2,923.5 L414.2,923.5 L414.2,923.8 L415.2,923.8 L415.2,924.1 L416.2,924.1 L416.2,923.5 L417.2,923.5 L417.2,924.1 L418.2,924.1 L418.2,924.4 L419.2,924.4 L419.2,923.5 L420.2,923.5 L420.2,923.8 L421.2,923.8 L421.2,923.4 L422.2,923.4 L422.2,923.6 L423.2,923.6 L423.2,923.9 L424.2,923.9 L424.2,925.5 L425.2,925.5 L425.2,925.5 L426.2,925.5 L426.2,923.7 L427.2,923.7 L427.2,923.4 L428.2,923.4 L428.2,924.7 L429.2,924.7 L429.2,924.3 L430.2,924.3 L430.2,924.3 L431.2,924.3 L431.2,924.2 L432.2,924.2 L432.2,924.0 L433.2,924.0 L433.2,923.8 L434.2,923.8 L434.2,923.4 L435.2,923.4 L435.2,924.2 L436.2,924.2 L436.2,924.3 L437.2,924.3 L437.2,923.4 L438.2,923.4 L438.2,923.3 L439.2,923.3 L439.2,923.5 L440.2,923.5 L440.2,924.6 L441.2,924.6 L441.2,924.6 L442.2,924.6 L442.2,923.4 L443.2,923.4 L443.2,923.7 L444.2,923.7 L444.2,923.8 L445.2,923.8 L445.2,923.8 L446.2,923.8 L446.2,923.5 L447.2,923.5 L447.2,924.5 L448.2,924.5 L448.2,923.4 L449.2,923.4 L449.2,926.2 L450.2,926.2 L450.2,926.2 L451.2,926.2 L451.2,924.6 L452.2,924.6 L452.2,924.0 L453.2,924.0 L453.2,923.7 L454.2,923.7 L454.2,923.4 L455.2,923.4 L455.2,923.5 L456.2,923.5 L456.2,924.7 L457.2,924.7 L457.2,925.1 L458.2,925.1 L458.2,925.1 L459.2,925.1 L459.2,923.6 L460.2,923.6 L460.2,923.3 L461.2,923.3 L461.2,924.5 L462.2,924.5 L462.2,923.5 L463.2,923.5 L463.2,925.1 L464.2,925.1 L464.2,925.1 L465.2,925.1 L465.2,923.4 L466.2,923.4 L466.2,920.1 L467.2,920.1 L467.2,923.5 L468.2,923.5 L468.2,923.9 L469.2,923.9 L469.2,923.8 L470.2,923.8 L470.2,923.4 L471.2,923.4 L471.2,923.9 L472.2,923.9 L472.2,924.6 L473.2,924.6 L473.2,924.7 L474.2,924.7 L474.2,924.2 L475.2,924.2 L475.2,923.4 L476.2,923.4 L476.2,924.2 L477.2,924.2 L477.2,924.1 L478.2,924.1 L478.2,924.0 L479.2,924.0 L479.2,923.7 L480.2,923.7 L480.2,924.5 L481.2,924.5 L481.2,922.0 L482.2,922.0 L482.2,922.0 L483.2,922.0 L483.2,924.3 L484.2,924.3 L484.2,924.1 L485.2,924.1 L485.2,924.6 L486.2,924.6 L486.2,923.6 L487.2,923.6 L487.2,923.7 L488.2,923.7 L488.2,924.7 L489.2,924.7 L489.2,924.3 L490.2,924.3 L490.2,924.5 L491.2,924.5 L491.2,923.6 L492.2,923.6 L492.2,924.3 L493.2,924.3 L493.2,923.9 L494.2,923.9 L494.2,924.3 L495.2,924.3 L495.2,924.6 L496.2,924.6 L496.2,924.5 L497.2,924.5 L497.2,924.4 L498.2,924.4 L498.2,924.0 L499.2,924.0 L499.2,924.5 L500.2,924.5 L500.2,924.2 L501.2,924.2 L501.2,924.0 L502.2,924.0 L502.2,924.3 L503.2,924.3 L503.2,924.7 L504.2,924.7 L504.2,924.0 L505.2,924.0 L505.2,925.6 L506.2,925.6 L506.2,923.4 L507.2,923.4 L507.2,920.7 L508.2,920.7 L508.2,923.5 L509.2,923.5 L509.2,924.6 L510.2,924.6 L510.2,926.5 L511.2,926.5 L511.2,924.6 L512.2,924.6 L512.2,923.5 L513.2,923.5 L513.2,923.8 L514.2,923.8 L514.2,924.3 L515.2,924.3 L515.2,923.5 L516.2,923.5 L516.2,924.3 L517.2,924.3 L517.2,924.3 L518.2,924.3 L518.2,921.0 L519.2,921.0 L519.2,923.8 L520.2,923.8 L520.2,923.3 L521.2,923.3 L521.2,923.6 L522.2,923.6 L522.2,924.3 L523.2,924.3 L523.2,920.0 L524.2,920.0 L524.2,920.0 L525.2,920.0 L525.2,925.0 L526.2,925.0 L526.2,925.4 L527.2,925.4 L527.2,923.7 L528.2,923.7 L528.2,923.8 L529.2,923.8 L529.2,924.5 L530.2,924.5 L530.2,924.3 L531.2,924.3 L531.2,924.6 L532.2,924.6 L532.2,921.6 L533.2,921.6 L533.2,924.0 L534.2,924.0 L534.2,920.4 L535.2,920.4 L535.2,924.4 L536.2,924.4 L536.2,923.8 L537.2,923.8 L537.2,923.5 L538.2,923.5 L538.2,923.9 L539.2,923.9 L539.2,924.2 L540.2,924.2 L540.2,925.5 L541.2,925.5 L541.2,923.5 L542.2,923.5 L542.2,923.6 L543.2,923.6 L543.2,924.3 L544.2,924.3 L544.2,924.0 L545.2,924.0 L545.2,923.7 L546.2,923.7 L546.2,924.0 L547.2,924.0 L547.2,923.6 L548.2,923.6 L548.2,924.2 L549.2,924.2 L549.2,924.3 L550.2,924.3 L550.2,923.8 L551.2,923.8 L551.2,920.0 L552.2,920.0 L552.2,920.0 L553.2,920.0 L553.2,924.0 L554.2,924.0 L554.2,924.7 L555.2,924.7 L555.2,921.1 L556.2,921.1 L556.2,924.4 L557.2,924.4 L557.2,924.2 L558.2,924.2 L558.2,923.7 L559.2,923.7 L559.2,924.5 L560.2,924.5 L560.2,924.3 L561.2,924.3 L561.2,924.4 L562.2,924.4 L562.2,924.0 L563.2,924.0 L563.2,923.8 L564.2,923.8 L564.2,923.9 L565.2,923.9 L565.2,921.7 L566.2,921.7 L566.2,921.7 L567.2,921.7 L567.2,924.4 L568.2,924.4 L568.2,924.6 L569.2,924.6 L569.2,924.7 L570.2,924.7 L570.2,923.6 L571.2,923.6 L571.2,924.2 L572.2,924.2 L572.2,923.9 L573.2,923.9 L573.2,924.6 L574.2,924.6 L574.2,923.5 L575.2,923.5 L575.2,923.7 L576.2,923.7 L576.2,924.2 L577.2,924.2 L577.2,923.4 L578.2,923.4 L578.2,924.6 L579.2,924.6 L579.2,923.7 L580.2,923.7 L580.2,924.0 L581.2,924.0 L581.2,924.3 L582.2,924.3 L582.2,924.6 L583.2,924.6 L583.2,923.7 L584.2,923.7 L584.2,924.6 L585.2,924.6 L585.2,924.4 L586.2,924.4 L586.2,923.6 L587.2,923.6 L587.2,922.4 L588.2,922.4 L588.2,922.4 L589.2,922.4 L589.2,924.1 L590.2,924.1 L590.2,924.2 L591.2,924.2 L591.2,924.3 L592.2,924.3 L592.2,924.1 L593.2,924.1 L593.2,926.2 L594.2,926.2 L594.2,926.2 L595.2,926.2 L595.2,923.3 L596.2,923.3 L596.2,924.2 L597.2,924.2 L597.2,921.7 L598.2,921.7 L598.2,923.8 L599.2,923.8 L599.2,924.2 L600.2,924.2 L600.2,924.3 L601.2,924.3 L601.2,923.4 L602.2,923.4 L602.2,923.4 L603.2,923.4 L603.2,923.8 L604.2,923.8 L604.2,924.1 L605.2,924.1 L605.2,923.9 L606.2,923.9 L606.2,920.2 L607.2,920.2 L607.2,920.2 L608.2,920.2 L608.2,923.7 L609.2,923.7 L609.2,924.3 L610.2,924.3 L610.2,923.5 L611.2,923.5 L611.2,922.0 L612.2,922.0 L612.2,922.0 L613.2,922.0 L613.2,923.4 L614.2,923.4 L614.2,923.9 L615.2,923.9 L615.2,924.1 L616.2,924.1 L616.2,924.2 L617.2,924.2 L617.2,923.8 L618.2,923.8 L618.2,923.7 L619.2,923.7 L619.2,924.4 L620.2,924.4 L620.2,923.7 L621.2,923.7 L621.2,924.7 L622.2,924.7 L622.2,923.7 L623.2,923.7 L623.2,924.6 L624.2,924.6 L624.2,923.3 L625.2,923.3 L625.2,924.2 L626.2,924.2 L626.2,923.8 L627.2,923.8 L627.2,923.6 L628.2,923.6 L628.2,923.4 L629.2,923.4 L629.2,922.2 L630.2,922.2 L630.2,923.6 L631.2,923.6 L631.2,923.7 L632.2,923.7 L632.2,924.3 L633.2,924.3 L633.2,924.5 L634.2,924.5 L634.2,924.4 L635.2,924.4 L635.2,923.8 L636.2,923.8 L636.2,923.9 L637.2,923.9 L637.2,923.6 L638.2,923.6 L638.2,924.6 L639.2,924.6 L639.2,923.6 L640.2,923.6 L640.2,923.3 L641.2,923.3 L641.2,923.3 L642.2,923.3 L642.2,924.6 L643.2,924.6 L643.2,923.8 L644.2,923.8 L644.2,923.8 L645.2,923.8 L645.2,923.8 L646.2,923.8 L646.2,924.5 L647.2,924.5 L647.2,922.4 L648.2,922.4 L648.2,922.4 L649.2,922.4 L649.2,923.6 L650.2,923.6 L650.2,924.4 L651.2,924.4 L651.2,923.7 L652.2,923.7 L652.2,923.6 L653.2,923.6 L653.2,923.5 L654.2,923.5 L654.2,924.5 L655.2,924.5 L655.2,924.4 L656.2,924.4 L656.2,923.7 L657.2,923.7 L657.2,924.0 L658.2,924.0 L658.2,923.5 L659.2,923.5 L659.2,924.1 L660.2,924.1 L660.2,924.1 L661.2,924.1 L661.2,923.6 L662.2,923.6 L662.2,923.8 L663.2,923.8 L663.2,924.5 L664.2,924.5 L664.2,924.5 L665.2,924.5 L665.2,923.7 L666.2,923.7 L666.2,922.2 L667.2,922.2 L667.2,923.7 L668.2,923.7 L668.2,923.8 L669.2,923.8 L669.2,924.0 L670.2,924.0 L670.2,923.9 L671.2,923.9 L671.2,924.2 L672.2,924.2 L672.2,923.8 L673.2,923.8 L673.2,924.1 L674.2,924.1 L674.2,924.2 L675.2,924.2 L675.2,922.2 L676.2,922.2 L676.2,922.2 L677.2,922.2 L677.2,923.9 L678.2,923.9 L678.2,925.0 L679.2,925.0 L679.2,925.0 L680.2,925.0 L680.2,922.2 L681.2,922.2 L681.2,922.2 L682.2,922.2 L682.2,924.0 L683.2,924.0 L683.2,921.9 L684.2,921.9 L684.2,921.9 L685.2,921.9 L685.2,924.3 L686.2,924.3 L686.2,923.5 L687.2,923.5 L687.2,924.0 L688.2,924.0 L688.2,923.8 L689.2,923.8 L689.2,924.7 L690.2,924.7 L690.2,924.3 L691.2,924.3 L691.2,923.5 L692.2,923.5 L692.2,923.4 L693.2,923.4 L693.2,921.2 L694.2,921.2 L694.2,921.2 L695.2,921.2 L695.2,924.6 L696.2,924.6 L696.2,923.8 L697.2,923.8 L697.2,921.4 L698.2,921.4 L698.2,921.4 L699.2,921.4 L699.2,924.3 L700.2,924.3 L700.2,924.5 L701.2,924.5 L701.2,923.9 L702.2,923.9 L702.2,923.9 L703.2,923.9 L703.2,923.8 L704.2,923.8 L704.2,923.9 L705.2,923.9 L705.2,924.7 L706.2,924.7 L706.2,921.0 L707.2,921.0 L707.2,921.0 L708.2,921.0 L708.2,924.3 L709.2,924.3 L709.2,924.5 L710.2,924.5 L710.2,923.4 L711.2,923.4 L711.2,923.3 L712.2,923.3 L712.2,923.9 L713.2,923.9 L713.2,924.3 L714.2,924.3 L714.2,924.2 L715.2,924.2 L715.2,924.1 L716.2,924.1 L716.2,924.2 L717.2,924.2 L717.2,923.8 L718.2,923.8 L718.2,923.8 L719.2,923.8 L719.2,924.4 L720.2,924.4 L720.2,923.8 L721.2,923.8 L721.2,920.1 L722.2,920.1 L722.2,920.1 L723.2,920.1 L723.2,924.2 L724.2,924.2 L724.2,924.2 L725.2,924.2 L725.2,923.6 L726.2,923.6 L726.2,923.7 L727.2,923.7 L727.2,924.0 L728.2,924.0 L728.2,924.0 L729.2,924.0 L729.2,923.6 L730.2,923.6 L730.2,924.6 L731.2,924.6 L731.2,924.0 L732.2,924.0 L732.2,924.4 L733.2,924.4 L733.2,923.5 L734.2,923.5 L734.2,923.9 L735.2,923.9 L735.2,924.5 L736.2,924.5 L736.2,924.5 L737.2,924.5 L737.2,921.5 L738.2,921.5 L738.2,921.5 L739.2,921.5 L739.2,923.5 L740.2,923.5 L740.2,923.4 L741.2,923.4 L741.2,924.4 L742.2,924.4 L742.2,923.9 L743.2,923.9 L743.2,925.6 L744.2,925.6 L744.2,925.6 L745.2,925.6 L745.2,923.9 L746.2,923.9 L746.2,924.4 L747.2,924.4 L747.2,923.5 L748.2,923.5 L748.2,923.8 L749.2,923.8 L749.2,923.6 L750.2,923.6 L750.2,923.8 L751.2,923.8 L751.2,923.3 L752.2,923.3 L752.2,924.1 L753.2,924.1 L753.2,922.1 L754.2,922.1 L754.2,922.1 L755.2,922.1 L755.2,924.6 L756.2,924.6 L756.2,923.7 L757.2,923.7 L757.2,924.0 L758.2,924.0 L758.2,923.4 L759.2,923.4 L759.2,924.6 L760.2,924.6 L760.2,924.4 L761.2,924.4 L761.2,924.3 L762.2,924.3 L762.2,923.4 L763.2,923.4 L763.2,924.7 L764.2,924.7 L764.2,924.2 L765.2,924.2 L765.2,923.6 L766.2,923.6 L766.2,923.5 L767.2,923.5 L767.2,924.7 L768.2,924.7 L768.2,924.1 L769.2,924.1 L769.2,922.0 L770.2,922.0 L770.2,925.7 L771.2,925.7 L771.2,925.7 L772.2,925.7 L772.2,924.0 L773.2,924.0 L773.2,924.4 L774.2,924.4 L774.2,921.0 L775.2,921.0 L775.2,921.0 L776.2,921.0 L776.2,924.3 L777.2,924.3 L777.2,924.7 L778.2,924.7 L778.2,923.4 L779.2,923.4 L779.2,923.5 L780.2,923.5 L780.2,923.3 L781.2,923.3 L781.2,923.6 L782.2,923.6 L782.2,924.6 L783.2,924.6 L783.2,923.8 L784.2,923.8 L784.2,923.9 L785.2,923.9 L785.2,926.3 L786.2,926.3 L786.2,925.1 L787.2,925.1 L787.2,923.4 L788.2,923.4 L788.2,924.3 L789.2,924.3 L789.2,923.4 L790.2,923.4 L790.2,923.9 L791.2,923.9 L791.2,924.7 L792.2,924.7 L792.2,924.5 L793.2,924.5 L793.2,923.8 L794.2,923.8 L794.2,923.3 L795.2,923.3 L795.2,923.7 L796.2,923.7 L796.2,923.7 L797.2,923.7 L797.2,924.5 L798.2,924.5 L798.2,924.0 L799.2,924.0 L799.2,923.4 L800.2,923.4 L800.2,924.5 L801.2,924.5 L801.2,924.5 L802.2,924.5 L802.2,923.6 L803.2,923.6 L803.2,921.2 L804.2,921.2 L804.2,921.2 L805.2,921.2 L805.2,924.2 L806.2,924.2 L806.2,923.5 L807.2,923.5 L807.2,923.8 L808.2,923.8 L808.2,924.3 L809.2,924.3 L809.2,924.3 L810.2,924.3 L810.2,922.3 L811.2,922.3 L811.2,922.3 L812.2,922.3 L812.2,923.3 L813.2,923.3 L813.2,923.9 L814.2,923.9 L814.2,923.6 L815.2,923.6 L815.2,924.2 L816.2,924.2 L816.2,924.3 L817.2,924.3 L817.2,923.6 L818.2,923.6 L818.2,924.5 L819.2,924.5 L819.2,923.5 L820.2,923.5 L820.2,924.4 L821.2,924.4 L821.2,923.3 L822.2,923.3 L822.2,924.3 L823.2,924.3 L823.2,923.6 L824.2,923.6 L824.2,924.3 L825.2,924.3 L825.2,924.0 L826.2,924.0 L826.2,924.4 L827.2,924.4 L827.2,924.0 L828.2,924.0 L828.2,923.6 L829.2,923.6 L829.2,925.1 L830.2,925.1 L830.2,923.7 L831.2,923.7 L831.2,924.3 L832.2,924.3 L832.2,923.4 L833.2,923.4 L833.2,923.4 L834.2,923.4 L834.2,923.7 L835.2,923.7 L835.2,924.1 L836.2,924.1 L836.2,924.1 L837.2,924.1 L837.2,924.6 L838.2,924.6 L838.2,924.5 L839.2,924.5 L839.2,924.4 L840.2,924.4 L840.2,923.8 L841.2,923.8 L841.2,921.6 L842.2,921.6 L842.2,921.6 L843.2,921.6 L843.2,924.2 L844.2,924.2 L844.2,923.6 L845.2,923.6 L845.2,923.6 L846.2,923.6 L846.2,923.9 L847.2,923.9 L847.2,921.6 L848.2,921.6 L848.2,921.6 L849.2,921.6 L849.2,924.7 L850.2,924.7 L850.2,924.0 L851.2,924.0 L851.2,923.8 L852.2,923.8 L852.2,924.0 L853.2,924.0 L853.2,923.4 L854.2,923.4 L854.2,924.5 L855.2,924.5 L855.2,924.1 L856.2,924.1 L856.2,925.2 L857.2,925.2 L857.2,925.2 L858.2,925.2 L858.2,924.4 L859.2,924.4 L859.2,924.1 L860.2,924.1 L860.2,924.1 L861.2,924.1 L861.2,925.0 L862.2,925.0 L862.2,924.2 L863.2,924.2 L863.2,921.7 L864.2,921.7 L864.2,921.7 L865.2,921.7 L865.2,923.8 L866.2,923.8 L866.2,923.5 L867.2,923.5 L867.2,924.4 L868.2,924.4 L868.2,923.9 L869.2,923.9 L869.2,923.5 L870.2,923.5 L870.2,923.9 L871.2,923.9 L871.2,922.4 L872.2,922.4 L872.2,922.4 L873.2,922.4 L873.2,926.0 L874.2,926.0 L874.2,924.5 L875.2,924.5 L875.2,926.1 L876.2,926.1 L876.2,924.2 L877.2,924.2 L877.2,925.0 L878.2,925.0 L878.2,925.0 L879.2,925.0 L879.2,923.7 L880.2,923.7 L880.2,925.4 L881.2,925.4 L881.2,924.1 L882.2,924.1 L882.2,925.7 L883.2,925.7 L883.2,923.4 L884.2,923.4 L884.2,924.6 L885.2,924.6 L885.2,924.1 L886.2,924.1 L886.2,924.6 L887.2,924.6 L887.2,924.0 L888.2,924.0 L888.2,923.4 L889.2,923.4 L889.2,925.1 L890.2,925.1 L890.2,923.6 L891.2,923.6 L891.2,923.5 L892.2,923.5 L892.2,923.3 L893.2,923.3 L893.2,924.0 L894.2,924.0 L894.2,924.5 L895.2,924.5 L895.2,925.9 L896.2,925.9 L896.2,924.4 L897.2,924.4 L897.2,924.4 L898.2,924.4 L898.2,923.4 L899.2,923.4 L899.2,923.4 L900.2,923.4 L900.2,924.4 L901.2,924.4 L901.2,923.7 L902.2,923.7 L902.2,926.1 L903.2,926.1 L903.2,920.1 L904.2,920.1 L904.2,920.1 L905.2,920.1 L905.2,923.3 L906.2,923.3 L906.2,923.5 L907.2,923.5 L907.2,923.5 L908.2,923.5 L908.2,924.4 L909.2,924.4 L909.2,924.6 L910.2,924.6 L910.2,924.3 L911.2,924.3 L911.2,922.5 L912.2,922.5 L912.2,922.5 L913.2,922.5 L913.2,921.2 L914.2,921.2 L914.2,921.2 L915.2,921.2 L915.2,924.4 L916.2,924.4 L916.2,923.6 L917.2,923.6 L917.2,924.5 L918.2,924.5 L918.2,923.4 L919.2,923.4 L919.2,923.8 L920.2,923.8 L920.2,924.7 L921.2,924.7 L921.2,924.3 L922.2,924.3 L922.2,924.5 L923.2,924.5 L923.2,924.6 L924.2,924.6 L924.2,924.5 L925.2,924.5 L925.2,924.1 L926.2,924.1 L926.2,924.5 L927.2,924.5 L927.2,924.5 L928.2,924.5 L928.2,924.6 L929.2,924.6 L929.2,924.6 L930.2,924.6 L930.2,926.5 L931.2,926.5 L931.2,926.5 L932.2,926.5 L932.2,924.5 L933.2,924.5 L933.2,924.1 L934.2,924.1 L934.2,924.5 L935.2,924.5 L935.2,924.6 L936.2,924.6 L936.2,923.4 L937.2,923.4 L937.2,923.9 L938.2,923.9 L938.2,924.4 L939.2,924.4 L939.2,923.8 L940.2,923.8 L940.2,923.6 L941.2,923.6 L941.2,924.4 L942.2,924.4 L942.2,924.6 L943.2,924.6 L943.2,923.7 L944.2,923.7 L944.2,924.1 L945.2,924.1 L945.2,924.5 L946.2,924.5 L946.2,923.9 L947.2,923.9 L947.2,923.5 L948.2,923.5 L948.2,923.4 L949.2,923.4 L949.2,924.0 L950.2,924.0 L950.2,921.7 L951.2,921.7 L951.2,921.7 L952.2,921.7 L952.2,924.5 L953.2,924.5 L953.2,924.1 L954.2,924.1 L954.2,923.6 L955.2,923.6 L955.2,923.8 L956.2,923.8 L956.2,923.8 L957.2,923.8 L957.2,923.5 L958.2,923.5 L958.2,923.8 L959.2,923.8 L959.2,924.5 L960.2,924.5 L960.2,923.7 L961.2,923.7 L961.2,924.5 L962.2,924.5 L962.2,924.1 L963.2,924.1 L963.2,924.7 L964.2,924.7 L964.2,923.3 L965.2,923.3 L965.2,923.4 L966.2,923.4 L966.2,924.1 L967.2,924.1 L967.2,924.3 L968.2,924.3 L968.2,924.7 L969.2,924.7 L969.2,924.4 L970.2,924.4 L970.2,923.5 L971.2,923.5 L971.2,923.7 L972.2,923.7 L972.2,924.0 L973.2,924.0 L973.2,923.7 L974.2,923.7 L974.2,923.7 L975.2,923.7 L975.2,924.3 L976.2,924.3 L976.2,924.4 L977.2,924.4 L977.2,920.9 L978.2,920.9 L978.2,920.9 L979.2,920.9 L979.2,924.7 L980.2,924.7 L980.2,920.4 L981.2,920.4 L981.2,920.4 L982.2,920.4 L982.2,925.6 L983.2,925.6 L983.2,925.6 L984.2,925.6 L984.2,924.5 L985.2,924.5 L985.2,924.3 L986.2,924.3 L986.2,921.7 L987.2,921.7 L987.2,920.2 L988.2,920.2 L988.2,920.2 L989.2,920.2 L989.2,924.1 L990.2,924.1 L990.2,923.4 L991.2,923.4 L991.2,924.3 L992.2,924.3 L992.2,923.7 L993.2,923.7 L993.2,923.7 L994.2,923.7 L994.2,923.9 L995.2,923.9 L995.2,924.2 L996.2,924.2 L996.2,924.2 L997.2,924.2 L997.2,924.6 L998.2,924.6 L998.2,924.3 L999.2,924.3 L999.2,923.5 L1000.2,923.5 L1000.2,924.5 L1001.2,924.5 L1001.2,923.8 L1002.2,923.8 L1002.2,924.0 L1003.2,924.0 L1003.2,923.5 L1004.2,923.5 L1004.2,923.5 L1005.2,923.5 L1005.2,923.4 L1006.2,923.4 L1006.2,923.8 L1007.2,923.8 L1007.2,924.6 L1008.2,924.6 L1008.2,923.7 L1009.2,923.7 L1009.2,923.6 L1010.2,923.6 L1010.2,923.9 L1011.2,923.9 L1011.2,925.4 L1012.2,925.4 L1012.2,925.4 L1013.2,925.4 L1013.2,924.4 L1014.2,924.4 L1014.2,923.5 L1015.2,923.5 L1015.2,924.2 L1016.2,924.2 L1016.2,923.9 L1017.2,923.9 L1017.2,924.5 L1018.2,924.5 L1018.2,921.8 L1019.2,921.8 L1019.2,921.8 L1020.2,921.8 L1020.2,924.1 L1021.2,924.1 L1021.2,924.4 L1022.2,924.4 L1022.2,923.8 L1023.2,923.8 L1023.2,924.0 L1024.2,924.0 L1024.2,924.2 L1025.2,924.2 L1025.2,924.4 L1026.2,924.4 L1026.2,920.4 L1027.2,920.4 L1027.2,920.4 L1028.2,920.4 L1028.2,924.1 L1029.2,924.1 L1029.2,924.7 L1030.2,924.7 L1030.2,924.5 L1031.2,924.5 L1031.2,925.9 L1032.2,925.9 L1032.2,925.9 L1033.2,925.9 L1033.2,924.3 L1034.2,924.3 L1034.2,923.5 L1035.2,923.5 L1035.2,924.3 L1036.2,924.3 L1036.2,923.5 L1037.2,923.5 L1037.2,924.5 L1038.2,924.5 L1038.2,924.5 L1039.2,924.5 L1039.2,924.0 L1040.2,924.0 L1040.2,924.5 L1041.2,924.5 L1041.2,923.5 L1042.2,923.5 L1042.2,923.9 L1043.2,923.9 L1043.2,923.7 L1044.2,923.7 L1044.2,924.3 L1045.2,924.3 L1045.2,923.4 L1046.2,923.4 L1046.2,921.1 L1047.2,921.1 L1047.2,923.9 L1048.2,923.9 L1048.2,923.7 L1049.2,923.7 L1049.2,924.4 L1050.2,924.4 L1050.2,923.5 L1051.2,923.5 L1051.2,924.4 L1052.2,924.4 L1052.2,924.6 L1053.2,924.6 L1053.2,924.3 L1054.2,924.3 L1054.2,924.2 L1055.2,924.2 L1055.2,923.5 L1056.2,923.5 L1056.2,924.3 L1057.2,924.3 L1057.2,923.7 L1058.2,923.7 L1058.2,921.0 L1059.2,921.0 L1059.2,921.0 L1060.2,921.0 L1060.2,923.6 L1061.2,923.6 L1061.2,923.4 L1062.2,923.4 L1062.2,924.7 L1063.2,924.7 L1063.2,923.8 L1063.2,1005.9 L1063.2,1003.5 L1062.2,1003.5 L1062.2,1004.1 L1061.2,1004.1 L1061.2,1005.9 L1060.2,1005.9 L1060.2,1005.3 L1059.2,1005.3 L1059.2,1004.2 L1058.2,1004.2 L1058.2,1002.9 L1057.2,1002.9 L1057.2,1005.0 L1056.2,1005.0 L1056.2,1002.4 L1055.2,1002.4 L1055.2,1002.5 L1054.2,1002.5 L1054.2,1003.1 L1053.2,1003.1 L1053.2,1003.6 L1052.2,1003.6 L1052.2,1003.8 L1051.2,1003.8 L1051.2,1003.0 L1050.2,1003.0 L1050.2,1002.3 L1049.2,1002.3 L1049.2,1003.4 L1048.2,1003.4 L1048.2,1003.7 L1047.2,1003.7 L1047.2,1004.7 L1046.2,1004.7 L1046.2,1006.1 L1045.2,1006.1 L1045.2,1002.6 L1044.2,1002.6 L1044.2,1002.6 L1043.2,1002.6 L1043.2,1002.3 L1042.2,1002.3 L1042.2,1003.7 L1041.2,1003.7 L1041.2,1002.8 L1040.2,1002.8 L1040.2,1002.4 L1039.2,1002.4 L1039.2,1003.0 L1038.2,1003.0 L1038.2,1002.1 L1037.2,1002.1 L1037.2,1004.1 L1036.2,1004.1 L1036.2,1005.6 L1035.2,1005.6 L1035.2,1002.5 L1034.2,1002.5 L1034.2,1002.9 L1033.2,1002.9 L1033.2,1003.5 L1032.2,1003.5 L1032.2,1002.3 L1031.2,1002.3 L1031.2,1003.0 L1030.2,1003.0 L1030.2,1003.8 L1029.2,1003.8 L1029.2,1005.1 L1028.2,1005.1 L1028.2,1002.4 L1027.2,1002.4 L1027.2,1003.7 L1026.2,1003.7 L1026.2,1002.6 L1025.2,1002.6 L1025.2,1003.1 L1024.2,1003.1 L1024.2,1004.7 L1023.2,1004.7 L1023.2,1002.5 L1022.2,1002.5 L1022.2,1002.3 L1021.2,1002.3 L1021.2,1002.6 L1020.2,1002.6 L1020.2,1003.6 L1019.2,1003.6 L1019.2,1002.6 L1018.2,1002.6 L1018.2,1004.4 L1017.2,1004.4 L1017.2,1005.6 L1016.2,1005.6 L1016.2,1004.9 L1015.2,1004.9 L1015.2,1002.5 L1014.2,1002.5 L1014.2,1002.6 L1013.2,1002.6 L1013.2,1006.1 L1012.2,1006.1 L1012.2,1008.8 L1011.2,1008.8 L1011.2,1005.0 L1010.2,1005.0 L1010.2,1006.8 L1009.2,1006.8 L1009.2,1002.8 L1008.2,1002.8 L1008.2,1004.0 L1007.2,1004.0 L1007.2,1004.9 L1006.2,1004.9 L1006.2,1004.9 L1005.2,1004.9 L1005.2,1006.2 L1004.2,1006.2 L1004.2,1005.7 L1003.2,1005.7 L1003.2,1002.2 L1002.2,1002.2 L1002.2,1003.4 L1001.2,1003.4 L1001.2,1003.8 L1000.2,1003.8 L1000.2,1002.7 L999.2,1002.7 L999.2,1002.2 L998.2,1002.2 L998.2,1002.8 L997.2,1002.8 L997.2,1003.4 L996.2,1003.4 L996.2,1003.3 L995.2,1003.3 L995.2,1003.4 L994.2,1003.4 L994.2,1002.9 L993.2,1002.9 L993.2,1002.4 L992.2,1002.4 L992.2,1002.8 L991.2,1002.8 L991.2,1003.3 L990.2,1003.3 L990.2,1003.4 L989.2,1003.4 L989.2,1004.3 L988.2,1004.3 L988.2,1003.7 L987.2,1003.7 L987.2,1003.4 L986.2,1003.4 L986.2,1002.1 L985.2,1002.1 L985.2,1003.4 L984.2,1003.4 L984.2,1003.1 L983.2,1003.1 L983.2,1002.0 L982.2,1002.0 L982.2,1004.0 L981.2,1004.0 L981.2,1002.3 L980.2,1002.3 L980.2,1002.8 L979.2,1002.8 L979.2,1003.6 L978.2,1003.6 L978.2,1002.7 L977.2,1002.7 L977.2,1004.8 L976.2,1004.8 L976.2,1003.5 L975.2,1003.5 L975.2,1006.4 L974.2,1006.4 L974.2,1008.3 L973.2,1008.3 L973.2,1008.6 L972.2,1008.6 L972.2,1003.8 L971.2,1003.8 L971.2,1002.5 L970.2,1002.5 L970.2,1003.0 L969.2,1003.0 L969.2,1003.2 L968.2,1003.2 L968.2,1002.9 L967.2,1002.9 L967.2,1006.0 L966.2,1006.0 L966.2,1008.5 L965.2,1008.5 L965.2,1004.2 L964.2,1004.2 L964.2,1003.4 L963.2,1003.4 L963.2,1006.4 L962.2,1006.4 L962.2,1003.2 L961.2,1003.2 L961.2,1005.7 L960.2,1005.7 L960.2,1007.6 L959.2,1007.6 L959.2,1002.8 L958.2,1002.8 L958.2,1002.8 L957.2,1002.8 L957.2,1003.5 L956.2,1003.5 L956.2,1003.4 L955.2,1003.4 L955.2,1005.9 L954.2,1005.9 L954.2,1003.2 L953.2,1003.2 L953.2,1003.0 L952.2,1003.0 L952.2,1002.2 L951.2,1002.2 L951.2,1003.9 L950.2,1003.9 L950.2,1005.7 L949.2,1005.7 L949.2,1002.7 L948.2,1002.7 L948.2,1003.5 L947.2,1003.5 L947.2,1003.2 L946.2,1003.2 L946.2,1003.3 L945.2,1003.3 L945.2,1003.7 L944.2,1003.7 L944.2,1004.3 L943.2,1004.3 L943.2,1005.9 L942.2,1005.9 L942.2,1002.7 L941.2,1002.7 L941.2,1003.0 L940.2,1003.0 L940.2,1002.9 L939.2,1002.9 L939.2,1002.5 L938.2,1002.5 L938.2,1005.1 L937.2,1005.1 L937.2,1005.4 L936.2,1005.4 L936.2,1006.2 L935.2,1006.2 L935.2,1002.1 L934.2,1002.1 L934.2,1003.4 L933.2,1003.4 L933.2,1003.2 L932.2,1003.2 L932.2,1002.8 L931.2,1002.8 L931.2,1002.3 L930.2,1002.3 L930.2,1002.6 L929.2,1002.6 L929.2,1003.4 L928.2,1003.4 L928.2,1004.7 L927.2,1004.7 L927.2,1005.6 L926.2,1005.6 L926.2,1005.3 L925.2,1005.3 L925.2,1003.0 L924.2,1003.0 L924.2,1003.1 L923.2,1003.1 L923.2,1004.7 L922.2,1004.7 L922.2,1005.6 L921.2,1005.6 L921.2,1003.7 L920.2,1003.7 L920.2,1004.1 L919.2,1004.1 L919.2,1004.1 L918.2,1004.1 L918.2,1004.1 L917.2,1004.1 L917.2,1002.4 L916.2,1002.4 L916.2,1003.7 L915.2,1003.7 L915.2,1002.5 L914.2,1002.5 L914.2,1002.3 L913.2,1002.3 L913.2,1002.6 L912.2,1002.6 L912.2,1003.5 L911.2,1003.5 L911.2,1004.3 L910.2,1004.3 L910.2,1002.7 L909.2,1002.7 L909.2,1004.3 L908.2,1004.3 L908.2,1005.1 L907.2,1005.1 L907.2,1004.1 L906.2,1004.1 L906.2,1005.0 L905.2,1005.0 L905.2,1004.7 L904.2,1004.7 L904.2,1002.8 L903.2,1002.8 L903.2,1004.5 L902.2,1004.5 L902.2,1005.4 L901.2,1005.4 L901.2,1005.5 L900.2,1005.5 L900.2,1006.0 L899.2,1006.0 L899.2,1007.2 L898.2,1007.2 L898.2,1007.4 L897.2,1007.4 L897.2,1002.5 L896.2,1002.5 L896.2,1003.4 L895.2,1003.4 L895.2,1004.2 L894.2,1004.2 L894.2,1004.6 L893.2,1004.6 L893.2,1002.8 L892.2,1002.8 L892.2,1003.1 L891.2,1003.1 L891.2,1002.8 L890.2,1002.8 L890.2,1004.1 L889.2,1004.1 L889.2,1004.1 L888.2,1004.1 L888.2,1002.0 L887.2,1002.0 L887.2,1002.6 L886.2,1002.6 L886.2,1003.0 L885.2,1003.0 L885.2,1002.9 L884.2,1002.9 L884.2,1003.0 L883.2,1003.0 L883.2,1004.6 L882.2,1004.6 L882.2,1006.3 L881.2,1006.3 L881.2,1006.3 L880.2,1006.3 L880.2,1002.6 L879.2,1002.6 L879.2,1004.7 L878.2,1004.7 L878.2,1005.6 L877.2,1005.6 L877.2,1005.4 L876.2,1005.4 L876.2,1003.2 L875.2,1003.2 L875.2,1003.1 L874.2,1003.1 L874.2,1002.9 L873.2,1002.9 L873.2,1003.6 L872.2,1003.6 L872.2,1003.2 L871.2,1003.2 L871.2,1002.5 L870.2,1002.5 L870.2,1002.5 L869.2,1002.5 L869.2,1002.9 L868.2,1002.9 L868.2,1003.5 L867.2,1003.5 L867.2,1003.0 L866.2,1003.0 L866.2,1003.4 L865.2,1003.4 L865.2,1003.3 L864.2,1003.3 L864.2,1003.0 L863.2,1003.0 L863.2,1003.0 L862.2,1003.0 L862.2,1001.9 L861.2,1001.9 L861.2,1002.7 L860.2,1002.7 L860.2,1006.1 L859.2,1006.1 L859.2,1003.3 L858.2,1003.3 L858.2,1002.5 L857.2,1002.5 L857.2,1003.0 L856.2,1003.0 L856.2,1003.7 L855.2,1003.7 L855.2,1002.8 L854.2,1002.8 L854.2,1004.1 L853.2,1004.1 L853.2,1005.6 L852.2,1005.6 L852.2,1002.8 L851.2,1002.8 L851.2,1004.5 L850.2,1004.5 L850.2,1005.7 L849.2,1005.7 L849.2,1002.4 L848.2,1002.4 L848.2,1003.0 L847.2,1003.0 L847.2,1002.6 L846.2,1002.6 L846.2,1003.2 L845.2,1003.2 L845.2,1002.5 L844.2,1002.5 L844.2,1003.7 L843.2,1003.7 L843.2,1003.4 L842.2,1003.4 L842.2,1003.0 L841.2,1003.0 L841.2,1002.3 L840.2,1002.3 L840.2,1004.1 L839.2,1004.1 L839.2,1005.1 L838.2,1005.1 L838.2,1005.5 L837.2,1005.5 L837.2,1003.2 L836.2,1003.2 L836.2,1005.8 L835.2,1005.8 L835.2,1002.5 L834.2,1002.5 L834.2,1004.8 L833.2,1004.8 L833.2,1006.1 L832.2,1006.1 L832.2,1004.6 L831.2,1004.6 L831.2,1006.2 L830.2,1006.2 L830.2,1005.9 L829.2,1005.9 L829.2,1003.3 L828.2,1003.3 L828.2,1002.6 L827.2,1002.6 L827.2,1002.7 L826.2,1002.7 L826.2,1003.4 L825.2,1003.4 L825.2,1003.0 L824.2,1003.0 L824.2,1002.9 L823.2,1002.9 L823.2,1004.7 L822.2,1004.7 L822.2,1005.8 L821.2,1005.8 L821.2,1002.9 L820.2,1002.9 L820.2,1002.7 L819.2,1002.7 L819.2,1003.4 L818.2,1003.4 L818.2,1002.8 L817.2,1002.8 L817.2,1002.3 L816.2,1002.3 L816.2,1003.0 L815.2,1003.0 L815.2,1003.8 L814.2,1003.8 L814.2,1002.6 L813.2,1002.6 L813.2,1003.2 L812.2,1003.2 L812.2,1002.6 L811.2,1002.6 L811.2,1003.9 L810.2,1003.9 L810.2,1002.8 L809.2,1002.8 L809.2,1003.1 L808.2,1003.1 L808.2,1002.7 L807.2,1002.7 L807.2,1004.4 L806.2,1004.4 L806.2,1003.1 L805.2,1003.1 L805.2,1002.3 L804.2,1002.3 L804.2,1002.3 L803.2,1002.3 L803.2,1002.1 L802.2,1002.1 L802.2,1003.0 L801.2,1003.0 L801.2,1003.3 L800.2,1003.3 L800.2,1002.6 L799.2,1002.6 L799.2,1003.2 L798.2,1003.2 L798.2,1002.7 L797.2,1002.7 L797.2,1003.2 L796.2,1003.2 L796.2,1002.6 L795.2,1002.6 L795.2,1002.6 L794.2,1002.6 L794.2,1003.1 L793.2,1003.1 L793.2,1002.9 L792.2,1002.9 L792.2,1002.0 L791.2,1002.0 L791.2,1003.1 L790.2,1003.1 L790.2,1003.6 L789.2,1003.6 L789.2,1002.6 L788.2,1002.6 L788.2,1003.3 L787.2,1003.3 L787.2,1003.2 L786.2,1003.2 L786.2,1002.6 L785.2,1002.6 L785.2,1002.5 L784.2,1002.5 L784.2,1003.4 L783.2,1003.4 L783.2,1003.5 L782.2,1003.5 L782.2,1002.9 L781.2,1002.9 L781.2,1003.1 L780.2,1003.1 L780.2,1002.5 L779.2,1002.5 L779.2,1003.3 L778.2,1003.3 L778.2,1003.7 L777.2,1003.7 L777.2,1002.4 L776.2,1002.4 L776.2,1002.9 L775.2,1002.9 L775.2,1004.2 L774.2,1004.2 L774.2,1005.2 L773.2,1005.2 L773.2,1003.0 L772.2,1003.0 L772.2,1002.0 L771.2,1002.0 L771.2,1002.5 L770.2,1002.5 L770.2,1002.9 L769.2,1002.9 L769.2,1004.4 L768.2,1004.4 L768.2,1005.8 L767.2,1005.8 L767.2,1004.1 L766.2,1004.1 L766.2,1002.4 L765.2,1002.4 L765.2,1002.9 L764.2,1002.9 L764.2,1003.1 L763.2,1003.1 L763.2,1003.8 L762.2,1003.8 L762.2,1002.8 L761.2,1002.8 L761.2,1003.3 L760.2,1003.3 L760.2,1003.0 L759.2,1003.0 L759.2,1002.8 L758.2,1002.8 L758.2,1003.0 L757.2,1003.0 L757.2,1003.7 L756.2,1003.7 L756.2,1002.7 L755.2,1002.7 L755.2,1002.5 L754.2,1002.5 L754.2,1002.6 L753.2,1002.6 L753.2,1002.2 L752.2,1002.2 L752.2,1003.4 L751.2,1003.4 L751.2,1002.3 L750.2,1002.3 L750.2,1002.9 L749.2,1002.9 L749.2,1002.6 L748.2,1002.6 L748.2,1002.6 L747.2,1002.6 L747.2,1002.6 L746.2,1002.6 L746.2,1003.3 L745.2,1003.3 L745.2,1003.7 L744.2,1003.7 L744.2,1002.0 L743.2,1002.0 L743.2,1002.1 L742.2,1002.1 L742.2,1003.5 L741.2,1003.5 L741.2,1003.1 L740.2,1003.1 L740.2,1002.0 L739.2,1002.0 L739.2,1004.0 L738.2,1004.0 L738.2,1002.1 L737.2,1002.1 L737.2,1003.1 L736.2,1003.1 L736.2,1003.0 L735.2,1003.0 L735.2,1003.6 L734.2,1003.6 L734.2,1002.0 L733.2,1002.0 L733.2,1003.9 L732.2,1003.9 L732.2,1002.7 L731.2,1002.7 L731.2,1002.6 L730.2,1002.6 L730.2,1002.2 L729.2,1002.2 L729.2,1004.5 L728.2,1004.5 L728.2,1003.4 L727.2,1003.4 L727.2,1002.2 L726.2,1002.2 L726.2,1003.2 L725.2,1003.2 L725.2,1003.2 L724.2,1003.2 L724.2,1002.4 L723.2,1002.4 L723.2,1003.1 L722.2,1003.1 L722.2,1002.3 L721.2,1002.3 L721.2,1002.7 L720.2,1002.7 L720.2,1002.1 L719.2,1002.1 L719.2,1004.6 L718.2,1004.6 L718.2,1006.0 L717.2,1006.0 L717.2,1002.8 L716.2,1002.8 L716.2,1002.2 L715.2,1002.2 L715.2,1003.3 L714.2,1003.3 L714.2,1002.0 L713.2,1002.0 L713.2,1003.2 L712.2,1003.2 L712.2,1003.2 L711.2,1003.2 L711.2,1002.3 L710.2,1002.3 L710.2,1003.6 L709.2,1003.6 L709.2,1004.6 L708.2,1004.6 L708.2,1004.8 L707.2,1004.8 L707.2,1002.7 L706.2,1002.7 L706.2,1002.5 L705.2,1002.5 L705.2,1002.9 L704.2,1002.9 L704.2,1003.0 L703.2,1003.0 L703.2,1003.1 L702.2,1003.1 L702.2,1003.7 L701.2,1003.7 L701.2,1003.6 L700.2,1003.6 L700.2,1003.5 L699.2,1003.5 L699.2,1002.7 L698.2,1002.7 L698.2,1003.0 L697.2,1003.0 L697.2,1003.7 L696.2,1003.7 L696.2,1002.3 L695.2,1002.3 L695.2,1002.5 L694.2,1002.5 L694.2,1002.4 L693.2,1002.4 L693.2,1003.0 L692.2,1003.0 L692.2,1003.0 L691.2,1003.0 L691.2,1002.5 L690.2,1002.5 L690.2,1002.4 L689.2,1002.4 L689.2,1003.7 L688.2,1003.7 L688.2,1003.1 L687.2,1003.1 L687.2,1002.5 L686.2,1002.5 L686.2,1004.1 L685.2,1004.1 L685.2,1005.4 L684.2,1005.4 L684.2,1003.1 L683.2,1003.1 L683.2,1002.3 L682.2,1002.3 L682.2,1003.0 L681.2,1003.0 L681.2,1003.6 L680.2,1003.6 L680.2,1002.4 L679.2,1002.4 L679.2,1003.2 L678.2,1003.2 L678.2,1003.2 L677.2,1003.2 L677.2,1002.6 L676.2,1002.6 L676.2,1004.8 L675.2,1004.8 L675.2,1005.8 L674.2,1005.8 L674.2,1003.9 L673.2,1003.9 L673.2,1004.9 L672.2,1004.9 L672.2,1003.2 L671.2,1003.2 L671.2,1006.1 L670.2,1006.1 L670.2,1009.0 L669.2,1009.0 L669.2,1008.5 L668.2,1008.5 L668.2,1003.7 L667.2,1003.7 L667.2,1006.1 L666.2,1006.1 L666.2,1007.5 L665.2,1007.5 L665.2,1008.0 L664.2,1008.0 L664.2,1006.0 L663.2,1006.0 L663.2,1004.5 L662.2,1004.5 L662.2,1005.4 L661.2,1005.4 L661.2,1003.1 L660.2,1003.1 L660.2,1004.9 L659.2,1004.9 L659.2,1005.9 L658.2,1005.9 L658.2,1003.6 L657.2,1003.6 L657.2,1003.3 L656.2,1003.3 L656.2,1006.0 L655.2,1006.0 L655.2,1007.3 L654.2,1007.3 L654.2,1008.2 L653.2,1008.2 L653.2,1002.5 L652.2,1002.5 L652.2,1002.8 L651.2,1002.8 L651.2,1003.8 L650.2,1003.8 L650.2,1004.5 L649.2,1004.5 L649.2,1006.3 L648.2,1006.3 L648.2,1002.7 L647.2,1002.7 L647.2,1002.8 L646.2,1002.8 L646.2,1004.0 L645.2,1004.0 L645.2,1003.1 L644.2,1003.1 L644.2,1003.5 L643.2,1003.5 L643.2,1002.0 L642.2,1002.0 L642.2,1003.4 L641.2,1003.4 L641.2,1003.2 L640.2,1003.2 L640.2,1002.9 L639.2,1002.9 L639.2,1001.9 L638.2,1001.9 L638.2,1002.8 L637.2,1002.8 L637.2,1004.9 L636.2,1004.9 L636.2,1006.6 L635.2,1006.6 L635.2,1002.6 L634.2,1002.6 L634.2,1002.1 L633.2,1002.1 L633.2,1003.6 L632.2,1003.6 L632.2,1002.3 L631.2,1002.3 L631.2,1003.1 L630.2,1003.1 L630.2,1004.0 L629.2,1004.0 L629.2,1004.5 L628.2,1004.5 L628.2,1004.2 L627.2,1004.2 L627.2,1006.1 L626.2,1006.1 L626.2,1003.9 L625.2,1003.9 L625.2,1004.8 L624.2,1004.8 L624.2,1003.8 L623.2,1003.8 L623.2,1003.7 L622.2,1003.7 L622.2,1004.9 L621.2,1004.9 L621.2,1002.6 L620.2,1002.6 L620.2,1002.6 L619.2,1002.6 L619.2,1002.8 L618.2,1002.8 L618.2,1002.0 L617.2,1002.0 L617.2,1003.4 L616.2,1003.4 L616.2,1005.0 L615.2,1005.0 L615.2,1006.8 L614.2,1006.8 L614.2,1007.7 L613.2,1007.7 L613.2,1002.2 L612.2,1002.2 L612.2,1003.2 L611.2,1003.2 L611.2,1002.4 L610.2,1002.4 L610.2,1005.7 L609.2,1005.7 L609.2,1007.3 L608.2,1007.3 L608.2,1007.6 L607.2,1007.6 L607.2,1005.0 L606.2,1005.0 L606.2,1005.9 L605.2,1005.9 L605.2,1003.5 L604.2,1003.5 L604.2,1002.9 L603.2,1002.9 L603.2,1002.3 L602.2,1002.3 L602.2,1004.4 L601.2,1004.4 L601.2,1005.6 L600.2,1005.6 L600.2,1005.2 L599.2,1005.2 L599.2,1003.2 L598.2,1003.2 L598.2,1004.5 L597.2,1004.5 L597.2,1005.6 L596.2,1005.6 L596.2,1006.2 L595.2,1006.2 L595.2,1008.4 L594.2,1008.4 L594.2,1003.6 L593.2,1003.6 L593.2,1004.4 L592.2,1004.4 L592.2,1002.4 L591.2,1002.4 L591.2,1002.9 L590.2,1002.9 L590.2,1003.6 L589.2,1003.6 L589.2,1005.8 L588.2,1005.8 L588.2,1002.9 L587.2,1002.9 L587.2,1006.1 L586.2,1006.1 L586.2,1007.4 L585.2,1007.4 L585.2,1007.9 L584.2,1007.9 L584.2,1002.1 L583.2,1002.1 L583.2,1003.7 L582.2,1003.7 L582.2,1003.0 L581.2,1003.0 L581.2,1003.4 L580.2,1003.4 L580.2,1002.1 L579.2,1002.1 L579.2,1003.3 L578.2,1003.3 L578.2,1002.3 L577.2,1002.3 L577.2,1003.2 L576.2,1003.2 L576.2,1002.3 L575.2,1002.3 L575.2,1002.8 L574.2,1002.8 L574.2,1002.4 L573.2,1002.4 L573.2,1003.4 L572.2,1003.4 L572.2,1005.7 L571.2,1005.7 L571.2,1002.8 L570.2,1002.8 L570.2,1003.2 L569.2,1003.2 L569.2,1004.3 L568.2,1004.3 L568.2,1003.1 L567.2,1003.1 L567.2,1003.1 L566.2,1003.1 L566.2,1002.1 L565.2,1002.1 L565.2,1003.6 L564.2,1003.6 L564.2,1003.0 L563.2,1003.0 L563.2,1003.1 L562.2,1003.1 L562.2,1004.4 L561.2,1004.4 L561.2,1004.4 L560.2,1004.4 L560.2,1006.1 L559.2,1006.1 L559.2,1008.7 L558.2,1008.7 L558.2,1003.7 L557.2,1003.7 L557.2,1004.1 L556.2,1004.1 L556.2,1002.8 L555.2,1002.8 L555.2,1003.1 L554.2,1003.1 L554.2,1002.6 L553.2,1002.6 L553.2,1003.0 L552.2,1003.0 L552.2,1002.3 L551.2,1002.3 L551.2,1003.0 L550.2,1003.0 L550.2,1003.9 L549.2,1003.9 L549.2,1002.8 L548.2,1002.8 L548.2,1003.6 L547.2,1003.6 L547.2,1002.9 L546.2,1002.9 L546.2,1003.8 L545.2,1003.8 L545.2,1004.9 L544.2,1004.9 L544.2,1003.0 L543.2,1003.0 L543.2,1002.9 L542.2,1002.9 L542.2,1002.1 L541.2,1002.1 L541.2,1003.3 L540.2,1003.3 L540.2,1003.0 L539.2,1003.0 L539.2,1003.2 L538.2,1003.2 L538.2,1002.9 L537.2,1002.9 L537.2,1002.5 L536.2,1002.5 L536.2,1002.5 L535.2,1002.5 L535.2,1002.6 L534.2,1002.6 L534.2,1003.5 L533.2,1003.5 L533.2,1005.4 L532.2,1005.4 L532.2,1006.8 L531.2,1006.8 L531.2,1007.6 L530.2,1007.6 L530.2,1003.9 L529.2,1003.9 L529.2,1003.1 L528.2,1003.1 L528.2,1002.2 L527.2,1002.2 L527.2,1002.2 L526.2,1002.2 L526.2,1002.9 L525.2,1002.9 L525.2,1003.4 L524.2,1003.4 L524.2,1004.5 L523.2,1004.5 L523.2,1006.0 L522.2,1006.0 L522.2,1003.0 L521.2,1003.0 L521.2,1003.0 L520.2,1003.0 L520.2,1003.2 L519.2,1003.2 L519.2,1003.6 L518.2,1003.6 L518.2,1002.9 L517.2,1002.9 L517.2,1005.1 L516.2,1005.1 L516.2,1006.0 L515.2,1006.0 L515.2,1003.6 L514.2,1003.6 L514.2,1003.0 L513.2,1003.0 L513.2,1003.7 L512.2,1003.7 L512.2,1004.8 L511.2,1004.8 L511.2,1002.3 L510.2,1002.3 L510.2,1004.0 L509.2,1004.0 L509.2,1003.2 L508.2,1003.2 L508.2,1005.1 L507.2,1005.1 L507.2,1002.7 L506.2,1002.7 L506.2,1003.3 L505.2,1003.3 L505.2,1002.4 L504.2,1002.4 L504.2,1006.2 L503.2,1006.2 L503.2,1004.0 L502.2,1004.0 L502.2,1002.7 L501.2,1002.7 L501.2,1002.8 L500.2,1002.8 L500.2,1002.9 L499.2,1002.9 L499.2,1002.5 L498.2,1002.5 L498.2,1002.3 L497.2,1002.3 L497.2,1002.7 L496.2,1002.7 L496.2,1002.5 L495.2,1002.5 L495.2,1003.6 L494.2,1003.6 L494.2,1004.9 L493.2,1004.9 L493.2,1005.6 L492.2,1005.6 L492.2,1006.8 L491.2,1006.8 L491.2,1002.8 L490.2,1002.8 L490.2,1003.1 L489.2,1003.1 L489.2,1006.2 L488.2,1006.2 L488.2,1002.3 L487.2,1002.3 L487.2,1003.4 L486.2,1003.4 L486.2,1002.2 L485.2,1002.2 L485.2,1003.8 L484.2,1003.8 L484.2,1006.1 L483.2,1006.1 L483.2,1009.4 L482.2,1009.4 L482.2,1003.3 L481.2,1003.3 L481.2,1004.1 L480.2,1004.1 L480.2,1005.2 L479.2,1005.2 L479.2,1004.9 L478.2,1004.9 L478.2,1003.6 L477.2,1003.6 L477.2,1002.6 L476.2,1002.6 L476.2,1003.8 L475.2,1003.8 L475.2,1002.7 L474.2,1002.7 L474.2,1004.1 L473.2,1004.1 L473.2,1006.1 L472.2,1006.1 L472.2,1003.3 L471.2,1003.3 L471.2,1003.2 L470.2,1003.2 L470.2,1002.7 L469.2,1002.7 L469.2,1002.1 L468.2,1002.1 L468.2,1003.5 L467.2,1003.5 L467.2,1002.7 L466.2,1002.7 L466.2,1003.8 L465.2,1003.8 L465.2,1002.2 L464.2,1002.2 L464.2,1003.8 L463.2,1003.8 L463.2,1003.8 L462.2,1003.8 L462.2,1002.7 L461.2,1002.7 L461.2,1003.7 L460.2,1003.7 L460.2,1003.1 L459.2,1003.1 L459.2,1003.2 L458.2,1003.2 L458.2,1002.1 L457.2,1002.1 L457.2,1003.2 L456.2,1003.2 L456.2,1003.0 L455.2,1003.0 L455.2,1003.2 L454.2,1003.2 L454.2,1003.7 L453.2,1003.7 L453.2,1003.0 L452.2,1003.0 L452.2,1003.2 L451.2,1003.2 L451.2,1002.2 L450.2,1002.2 L450.2,1003.6 L449.2,1003.6 L449.2,1002.8 L448.2,1002.8 L448.2,1002.6 L447.2,1002.6 L447.2,1002.9 L446.2,1002.9 L446.2,1003.6 L445.2,1003.6 L445.2,1002.4 L444.2,1002.4 L444.2,1003.4 L443.2,1003.4 L443.2,1002.6 L442.2,1002.6 L442.2,1002.7 L441.2,1002.7 L441.2,1002.4 L440.2,1002.4 L440.2,1003.0 L439.2,1003.0 L439.2,1003.2 L438.2,1003.2 L438.2,1002.3 L437.2,1002.3 L437.2,1002.1 L436.2,1002.1 L436.2,1003.6 L435.2,1003.6 L435.2,1004.9 L434.2,1004.9 L434.2,1006.0 L433.2,1006.0 L433.2,1004.9 L432.2,1004.9 L432.2,1002.7 L431.2,1002.7 L431.2,1003.2 L430.2,1003.2 L430.2,1002.9 L429.2,1002.9 L429.2,1005.0 L428.2,1005.0 L428.2,1005.8 L427.2,1005.8 L427.2,1004.8 L426.2,1004.8 L426.2,1006.3 L425.2,1006.3 L425.2,1003.4 L424.2,1003.4 L424.2,1004.1 L423.2,1004.1 L423.2,1005.8 L422.2,1005.8 L422.2,1005.7 L421.2,1005.7 L421.2,1002.1 L420.2,1002.1 L420.2,1003.0 L419.2,1003.0 L419.2,1002.5 L418.2,1002.5 L418.2,1002.1 L417.2,1002.1 L417.2,1002.5 L416.2,1002.5 L416.2,1005.6 L415.2,1005.6 L415.2,1008.1 L414.2,1008.1 L414.2,1003.3 L413.2,1003.3 L413.2,1003.4 L412.2,1003.4 L412.2,1002.1 L411.2,1002.1 L411.2,1002.9 L410.2,1002.9 L410.2,1004.9 L409.2,1004.9 L409.2,1006.5 L408.2,1006.5 L408.2,1002.8 L407.2,1002.8 L407.2,1003.4 L406.2,1003.4 L406.2,1006.6 L405.2,1006.6 L405.2,1008.5 L404.2,1008.5 L404.2,1003.7 L403.2,1003.7 L403.2,1002.2 L402.2,1002.2 L402.2,1002.1 L401.2,1002.1 L401.2,1002.5 L400.2,1002.5 L400.2,1002.8 L399.2,1002.8 L399.2,1003.9 L398.2,1003.9 L398.2,1003.9 L397.2,1003.9 L397.2,1004.7 L396.2,1004.7 L396.2,1006.1 L395.2,1006.1 L395.2,1004.2 L394.2,1004.2 L394.2,1006.4 L393.2,1006.4 L393.2,1003.5 L392.2,1003.5 L392.2,1003.4 L391.2,1003.4 L391.2,1003.7 L390.2,1003.7 L390.2,1003.0 L389.2,1003.0 L389.2,1002.8 L388.2,1002.8 L388.2,1004.9 L387.2,1004.9 L387.2,1003.2 L386.2,1003.2 L386.2,1002.8 L385.2,1002.8 L385.2,1003.0 L384.2,1003.0 L384.2,1004.2 L383.2,1004.2 L383.2,1004.1 L382.2,1004.1 L382.2,1004.9 L381.2,1004.9 L381.2,1004.5 L380.2,1004.5 L380.2,1003.8 L379.2,1003.8 L379.2,1003.7 L378.2,1003.7 L378.2,1003.2 L377.2,1003.2 L377.2,1003.1 L376.2,1003.1 L376.2,1003.0 L375.2,1003.0 L375.2,1002.0 L374.2,1002.0 L374.2,1002.4 L373.2,1002.4 L373.2,1002.9 L372.2,1002.9 L372.2,1004.3 L371.2,1004.3 L371.2,1004.4 L370.2,1004.4 L370.2,1004.5 L369.2,1004.5 L369.2,1001.8 L368.2,1001.8 L368.2,1002.5 L367.2,1002.5 L367.2,1001.9 L366.2,1001.9 L366.2,1004.4 L365.2,1004.4 L365.2,1004.8 L364.2,1004.8 L364.2,1002.5 L363.2,1002.5 L363.2,1003.6 L362.2,1003.6 L362.2,1003.4 L361.2,1003.4 L361.2,1004.4 L360.2,1004.4 L360.2,1005.6 L359.2,1005.6 L359.2,1002.2 L358.2,1002.2 L358.2,1006.0 L357.2,1006.0 L357.2,1008.7 L356.2,1008.7 L356.2,1004.8 L355.2,1004.8 L355.2,1005.8 L354.2,1005.8 L354.2,1005.7 L353.2,1005.7 L353.2,1002.7 L352.2,1002.7 L352.2,1003.3 L351.2,1003.3 L351.2,1003.8 L350.2,1003.8 L350.2,1003.7 L349.2,1003.7 L349.2,1002.8 L348.2,1002.8 L348.2,1003.8 L347.2,1003.8 L347.2,1002.7 L346.2,1002.7 L346.2,1002.4 L345.2,1002.4 L345.2,1006.4 L344.2,1006.4 L344.2,1008.7 L343.2,1008.7 L343.2,1001.8 L342.2,1001.8 L342.2,1003.7 L341.2,1003.7 L341.2,1003.6 L340.2,1003.6 L340.2,1002.2 L339.2,1002.2 L339.2,1002.8 L338.2,1002.8 L338.2,1002.4 L337.2,1002.4 L337.2,1004.3 L336.2,1004.3 L336.2,1005.7 L335.2,1005.7 L335.2,1002.5 L334.2,1002.5 L334.2,1003.2 L333.2,1003.2 L333.2,1003.0 L332.2,1003.0 L332.2,1002.6 L331.2,1002.6 L331.2,1002.7 L330.2,1002.7 L330.2,1004.5 L329.2,1004.5 L329.2,1003.0 L328.2,1003.0 L328.2,1006.1 L327.2,1006.1 L327.2,1006.6 L326.2,1006.6 L326.2,1008.8 L325.2,1008.8 L325.2,1008.7 L324.2,1008.7 L324.2,1002.4 L323.2,1002.4 L323.2,1002.2 L322.2,1002.2 L322.2,1004.6 L321.2,1004.6 L321.2,1004.0 L320.2,1004.0 L320.2,1003.1 L319.2,1003.1 L319.2,1003.1 L318.2,1003.1 L318.2,1002.9 L317.2,1002.9 L317.2,1002.7 L316.2,1002.7 L316.2,1002.4 L315.2,1002.4 L315.2,1003.7 L314.2,1003.7 L314.2,1005.0 L313.2,1005.0 L313.2,1005.6 L312.2,1005.6 L312.2,1003.2 L311.2,1003.2 L311.2,1002.6 L310.2,1002.6 L310.2,1002.6 L309.2,1002.6 L309.2,1003.5 L308.2,1003.5 L308.2,1002.3 L307.2,1002.3 L307.2,1002.4 L306.2,1002.4 L306.2,1004.2 L305.2,1004.2 L305.2,1004.6 L304.2,1004.6 L304.2,1003.0 L303.2,1003.0 L303.2,1002.7 L302.2,1002.7 L302.2,1003.2 L301.2,1003.2 L301.2,1003.3 L300.2,1003.3 L300.2,1002.6 L299.2,1002.6 L299.2,1002.8 L298.2,1002.8 L298.2,1003.4 L297.2,1003.4 L297.2,1003.1 L296.2,1003.1 L296.2,1004.0 L295.2,1004.0 L295.2,1004.6 L294.2,1004.6 L294.2,1002.3 L293.2,1002.3 L293.2,1003.0 L292.2,1003.0 L292.2,1003.0 L291.2,1003.0 L291.2,1004.0 L290.2,1004.0 L290.2,1004.8 L289.2,1004.8 L289.2,1003.8 L288.2,1003.8 L288.2,1004.8 L287.2,1004.8 L287.2,1002.7 L286.2,1002.7 L286.2,1006.1 L285.2,1006.1 L285.2,1008.7 L284.2,1008.7 L284.2,1003.3 L283.2,1003.3 L283.2,1005.2 L282.2,1005.2 L282.2,1007.0 L281.2,1007.0 L281.2,1004.3 L280.2,1004.3 L280.2,1005.9 L279.2,1005.9 L279.2,1003.1 L278.2,1003.1 L278.2,1002.7 L277.2,1002.7 L277.2,1002.6 L276.2,1002.6 L276.2,1002.9 L275.2,1002.9 L275.2,1002.8 L274.2,1002.8 L274.2,1003.1 L273.2,1003.1 L273.2,1004.1 L272.2,1004.1 L272.2,1004.1 L271.2,1004.1 L271.2,1002.9 L270.2,1002.9 L270.2,1003.2 L269.2,1003.2 L269.2,1002.8 L268.2,1002.8 L268.2,1002.4 L267.2,1002.4 L267.2,1004.5 L266.2,1004.5 L266.2,1005.3 L265.2,1005.3 L265.2,1004.7 L264.2,1004.7 L264.2,1003.6 L263.2,1003.6 L263.2,1002.9 L262.2,1002.9 L262.2,1002.5 L261.2,1002.5 L261.2,1003.8 L260.2,1003.8 L260.2,1005.5 L259.2,1005.5 L259.2,1006.9 L258.2,1006.9 L258.2,1004.0 L257.2,1004.0 L257.2,1003.4 L256.2,1003.4 L256.2,1002.4 L255.2,1002.4 L255.2,1002.5 L254.2,1002.5 L254.2,1003.1 L253.2,1003.1 L253.2,1003.0 L252.2,1003.0 L252.2,1002.7 L251.2,1002.7 L251.2,1003.0 L250.2,1003.0 L250.2,1002.3 L249.2,1002.3 L249.2,1002.9 L248.2,1002.9 L248.2,1002.7 L247.2,1002.7 L247.2,1002.9 L246.2,1002.9 L246.2,1002.7 L245.2,1002.7 L245.2,1002.9 L244.2,1002.9 L244.2,1002.1 L243.2,1002.1 L243.2,1002.4 L242.2,1002.4 L242.2,1003.6 L241.2,1003.6 L241.2,1002.6 L240.2,1002.6 L240.2,1002.8 L239.2,1002.8 L239.2,1003.3 L238.2,1003.3 L238.2,1002.9 L237.2,1002.9 L237.2,1002.4 L236.2,1002.4 L236.2,1006.8 L235.2,1006.8 L235.2,1008.8 L234.2,1008.8 L234.2,1009.2 L233.2,1009.2 L233.2,1003.2 L232.2,1003.2 L232.2,1005.5 L231.2,1005.5 L231.2,1006.8 L230.2,1006.8 L230.2,1005.0 L229.2,1005.0 L229.2,1004.4 L228.2,1004.4 L228.2,1002.5 L227.2,1002.5 L227.2,1002.0 L226.2,1002.0 L226.2,1006.2 L225.2,1006.2 L225.2,1008.3 L224.2,1008.3 L224.2,1008.0 L223.2,1008.0 L223.2,1003.3 L222.2,1003.3 L222.2,1002.3 L221.2,1002.3 L221.2,1003.5 L220.2,1003.5 L220.2,1002.4 L219.2,1002.4 L219.2,1002.2 L218.2,1002.2 L218.2,1003.0 L217.2,1003.0 L217.2,1003.0 L216.2,1003.0 L216.2,1003.1 L215.2,1003.1 L215.2,1002.1 L214.2,1002.1 L214.2,1001.8 L213.2,1001.8 L213.2,1002.9 L212.2,1002.9 L212.2,1004.3 L211.2,1004.3 L211.2,1003.7 L210.2,1003.7 L210.2,1001.6 L209.2,1001.6 L209.2,1001.3 L208.2,1001.3 L208.2,1001.5 L207.2,1001.5 L207.2,1001.6 L206.2,1001.6 L206.2,1000.6 L205.2,1000.6 L205.2,1000.7 L204.2,1000.7 L204.2,1001.7 L203.2,1001.7 L203.2,1001.0 L202.2,1001.0 L202.2,999.8 L201.2,999.8 L201.2,1000.7 L200.2,1000.7 L200.2,1000.2 L199.2,1000.2 L199.2,999.1 L198.2,999.1 L198.2,999.7 L197.2,999.7 L197.2,1001.0 L196.2,1001.0 L196.2,999.2 L195.2,999.2 L195.2,996.7 L194.2,996.7 L194.2,996.5 L193.2,996.5 L193.2,995.8 L192.2,995.8 L192.2,995.7 L191.2,995.7 L191.2,995.6 L190.2,995.6 L190.2,993.0 L189.2,993.0 L189.2,992.8 L188.2,992.8 L188.2,990.5 L187.2,990.5 L187.2,990.8 L186.2,990.8 L186.2,991.9 L185.2,991.9 L185.2,988.2 L184.2,988.2 L184.2,985.9 L183.2,985.9 L183.2,985.8 L182.2,985.8 L182.2,980.9 L181.2,980.9 L181.2,981.4 L180.2,981.4 L180.2,974.7 L179.2,974.7 L179.2,974.9 L178.2,974.9 L178.2,974.6 L177.2,974.6 L177.2,966.2 L176.2,966.2 L176.2,966.7 L175.2,966.7 L175.2,964.6 L174.2,964.6 L174.2,964.5 L173.2,964.5 L173.2,965.0 L172.2,965.0 L172.2,964.3 L171.2,964.3 L171.2,963.7 L170.2,963.7 L170.2,964.1 L169.2,964.1Z" fill="#dc6060"/>
<path d="M167.9,1079.4 L168.3,1020 L168.8,965" fill="none" stroke="#dc6060" stroke-width="2.6"/>
<text x="119.80" y="1128.25" style="font-weight:bold;font-size:19.5px">0.13</text>
<text x="119.55" y="1066.11" style="font-weight:bold;font-size:19.5px">0.14</text>
<text x="119.93" y="1003.97" style="font-weight:bold;font-size:19.5px">0.15</text>
<text x="119.80" y="941.83" style="font-weight:bold;font-size:19.5px">0.16</text>
<text x="119.68" y="879.69" style="font-weight:bold;font-size:19.5px">0.17</text>
<text x="119.80" y="817.55" style="font-weight:bold;font-size:19.5px">0.18</text>
<text x="459.52" y="1170.80" style="font-weight:bold;font-size:19.5px">2</text>
<text x="758.79" y="1170.80" style="font-weight:bold;font-size:19.5px">4</text>
<text x="1057.72" y="1170.67" style="font-weight:bold;font-size:19.5px">6</text>
<line x1="311.66" y1="1191.00" x2="311.66" y2="1545.10" stroke="#e0e0e0" stroke-width="1" stroke-dasharray="1.6 1.4"/>
<line x1="462.12" y1="1191.00" x2="462.12" y2="1545.10" stroke="#e0e0e0" stroke-width="1" stroke-dasharray="1.6 1.4"/>
<line x1="612.58" y1="1191.00" x2="612.58" y2="1545.10" stroke="#e0e0e0" stroke-width="1" stroke-dasharray="1.6 1.4"/>
<line x1="763.04" y1="1191.00" x2="763.04" y2="1545.10" stroke="#e0e0e0" stroke-width="1" stroke-dasharray="1.6 1.4"/>
<line x1="913.50" y1="1191.00" x2="913.50" y2="1545.10" stroke="#e0e0e0" stroke-width="1" stroke-dasharray="1.6 1.4"/>
<line x1="162.20" y1="1517.30" x2="1062.45" y2="1517.30" stroke="#e0e0e0" stroke-width="1" stroke-dasharray="1.6 1.4"/>
<line x1="162.20" y1="1437.28" x2="1062.45" y2="1437.28" stroke="#e0e0e0" stroke-width="1" stroke-dasharray="1.6 1.4"/>
<line x1="162.20" y1="1357.25" x2="1062.45" y2="1357.25" stroke="#e0e0e0" stroke-width="1" stroke-dasharray="1.6 1.4"/>
<line x1="162.20" y1="1277.23" x2="1062.45" y2="1277.23" stroke="#e0e0e0" stroke-width="1" stroke-dasharray="1.6 1.4"/>
<line x1="162.20" y1="1197.20" x2="1062.45" y2="1197.20" stroke="#e0e0e0" stroke-width="1" stroke-dasharray="1.6 1.4"/>
<path d="M161.20,1190.00V1546.10M1063.45,1190.00V1546.10" stroke="#868686" stroke-width="1.25" fill="none"/>
<path d="M160.60,1190.00H1064.05M160.60,1546.10H1064.05" stroke="#979797" stroke-width="1.5" fill="none"/>
<path d="M165.0,1260.9 L1063.0,1260.9" stroke="#ff0000" stroke-width="3.4" fill="none"/>
<path d="M161.30,1517.40 L161.30,1219.50 L164.70,1278.60 L165.70,1277.23 L166.70,1275.97 L167.70,1274.80 L168.70,1273.73 L169.70,1272.73 L170.70,1271.81 L171.70,1270.97 L172.70,1270.19 L173.70,1269.46 L174.70,1268.80 L175.70,1268.18 L176.70,1267.62 L177.70,1267.09 L178.70,1266.61 L179.70,1266.16 L180.70,1265.75 L181.70,1265.37 L182.70,1265.02 L183.70,1264.69 L184.70,1264.39 L185.70,1264.12 L186.70,1263.86 L187.70,1263.63 L188.70,1263.41 L189.70,1263.21 L190.70,1263.02 L191.70,1262.85 L192.70,1262.69 L193.70,1262.55 L194.70,1262.41 L195.70,1262.29 L196.70,1262.18 L197.70,1262.07 L198.70,1261.97 L199.70,1261.88 L200.70,1261.80 L201.70,1261.72 L202.70,1261.65 L203.70,1261.59 L204.70,1261.53 L205.70,1261.47 L206.70,1261.42 L207.70,1261.37 L208.70,1261.33 L209.70,1261.29 L210.70,1261.25 L211.70,1261.21 L212.70,1261.18 L213.70,1261.15 L214.70,1261.13 L215.70,1261.10 L216.70,1261.08 L217.70,1261.06 L218.70,1261.04 L219.70,1261.02 L220.70,1261.00 L221.70,1260.99 L222.70,1260.97 L223.70,1260.96 L224.70,1260.95 L225.70,1260.94 L226.70,1260.92 L227.70,1260.92 L228.70,1260.91 L229.70,1260.90 L230.70,1260.89 L231.70,1260.88 L232.70,1260.88 L233.70,1260.87 L234.70,1260.87 L235.70,1260.86 L236.70,1260.86 L237.70,1260.85 L238.70,1260.85 L239.70,1260.84 L240.70,1260.84 L241.70,1260.84 L242.70,1260.83 L243.70,1260.83 L244.70,1260.83 L245.70,1260.83 L246.70,1260.83 L247.70,1260.82 L248.70,1260.82 L249.70,1260.82 L250.70,1260.82 L1063.00,1260.80" fill="none" stroke="#1278f0" stroke-width="3.4" stroke-linejoin="round"/>
<text x="138.30" y="1523.88" style="font-weight:bold;font-size:19.5px">0</text>
<text x="138.30" y="1443.85" style="font-weight:bold;font-size:19.5px">5</text>
<text x="128.55" y="1363.83" style="font-weight:bold;font-size:19.5px">10</text>
<text x="128.55" y="1283.80" style="font-weight:bold;font-size:19.5px">15</text>
<text x="128.55" y="1203.78" style="font-weight:bold;font-size:19.5px">20</text>
<text x="156.32" y="1565.78" style="font-weight:bold;font-size:19.5px">0</text>
<text x="306.47" y="1565.90" style="font-weight:bold;font-size:19.5px">1</text>
<text x="457.25" y="1565.90" style="font-weight:bold;font-size:19.5px">2</text>
<text x="607.64" y="1565.78" style="font-weight:bold;font-size:19.5px">3</text>
<text x="758.23" y="1565.90" style="font-weight:bold;font-size:19.5px">4</text>
<text x="908.62" y="1565.78" style="font-weight:bold;font-size:19.5px">5</text>
<text x="1054.38" y="1565.78" style="font-weight:bold;font-size:19.5px">6</text>
<rect x="904.90" y="207.00" width="150.10" height="57.90" fill="#fff" stroke="#000" stroke-width="2.2"/>
<rect x="984.70" y="230.40" width="64.80" height="8.20" fill="#8fd14f"/>
<rect x="902.40" y="582.20" width="150.00" height="57.70" fill="#fff" stroke="#000" stroke-width="2.2"/>
<rect x="982.10" y="606.10" width="64.90" height="8.40" fill="#ff0000"/>
<rect x="931.70" y="807.70" width="117.50" height="94.30" fill="#fff" stroke="#000" stroke-width="2.2"/>
<rect x="980.00" y="830.20" width="64.60" height="8.10" fill="#8fd14f"/>
<rect x="980.00" y="870.10" width="64.60" height="8.00" fill="#ff0000"/>
<rect x="900.00" y="1373.40" width="150.70" height="93.20" fill="#fff" stroke="#000" stroke-width="2.2"/>
<rect x="981.00" y="1395.10" width="64.40" height="8.30" fill="#3481e0"/>
<rect x="979.90" y="1445.70" width="64.70" height="8.20" fill="#ff0000"/>
<rect x="949.5" y="1460.4" width="11.1" height="1.6" fill="#000"/>
<path d="M88.00,17.60H95.20V19.30H91.00V44.80H95.20V46.50H88.00Z" fill="#000"/>
<path d="M129.00,17.60H121.40V19.30H126.00V44.80H121.40V46.50H129.00Z" fill="#000"/>
<path d="M72.10,399.30H78.90V401.00H75.10V425.80H78.90V427.50H72.10Z" fill="#000"/>
<path d="M111.70,399.30H104.20V401.00H108.70V425.80H104.20V427.50H111.70Z" fill="#000"/>
<path d="M63.00,809.20H70.50V811.00H66.20V846.70H70.50V848.50H63.00Z" fill="#000"/>
<path d="M105.50,809.20H98.50V811.00H102.30V846.70H98.50V848.50H105.50Z" fill="#000"/>
<path d="M68.10,1191.20H76.00V1193.10H71.60V1231.70H76.00V1233.60H68.10Z" fill="#000"/>
<path d="M112.00,1191.20H106.10V1193.10H109.00V1231.70H106.10V1233.60H112.00Z" fill="#000"/>
<text transform="translate(101.40,184.00) rotate(-90)" x="0" y="0" text-anchor="middle" style="font-weight:bold;font-size:27px">Output Voltage</text>
<text transform="translate(106.90,580.90) rotate(-90)" x="0" y="0" text-anchor="middle" style="font-weight:bold;font-size:27px">Output Voltage</text>
<text transform="translate(96.00,1006.60) rotate(-90)" x="0" y="0" text-anchor="middle" style="font-weight:bold;font-size:26.6px">Output Currents</text>
<text transform="translate(93.40,1371.10) rotate(-90)" x="0" y="0" text-anchor="middle" style="font-weight:bold;font-size:27px">DC Bus Voltage</text>
<path d="M47.10,26.04 L48.86,25.41 L51.07,25.10 L52.39,25.57 L53.13,29.62 L53.72,34.15 L53.86,36.64 L54.89,36.33 L57.39,32.90 L59.45,29.47 L58.57,28.06 L58.12,26.66 L58.86,25.41 L59.89,25.10 L61.06,25.41 L61.80,26.66 L61.65,28.22 L59.89,31.03 L57.39,34.46 L54.89,38.05 L52.39,40.70 L51.66,40.54 L51.36,38.67 L51.07,35.86 L50.77,32.28 L50.33,29.00 L49.60,27.60 L48.28,27.28 L47.10,27.28Z" fill="#000"/>
<path d="M98.10,17.90 L106.84,17.90 L106.84,18.95 L104.34,19.04 L103.92,25.46 L102.68,31.64 L102.05,35.76 L114.12,19.04 L112.04,19.04 L112.04,17.90 L118.90,17.90 L118.90,18.93 L116.40,19.27 L99.97,40.80 L98.72,40.80 L99.14,35.76 L99.97,30.95 L100.39,25.46 L101.01,19.04 L98.10,18.95Z" fill="#000"/>
<path d="M35.90,406.54 L37.57,405.91 L39.65,405.60 L40.90,406.07 L41.60,410.12 L42.16,414.65 L42.29,417.14 L43.27,416.83 L45.63,413.40 L47.58,409.97 L46.74,408.56 L46.32,407.16 L47.02,405.91 L47.99,405.60 L49.10,405.91 L49.80,407.16 L49.66,408.72 L47.99,411.53 L45.63,414.96 L43.27,418.55 L40.90,421.20 L40.21,421.04 L39.93,419.17 L39.65,416.36 L39.38,412.78 L38.96,409.50 L38.26,408.10 L37.01,407.78 L35.90,407.78Z" fill="#000"/>
<path d="M82.20,399.70 L90.35,399.70 L90.35,400.69 L88.02,400.77 L87.63,406.80 L86.47,412.60 L85.89,416.47 L97.14,400.77 L95.20,400.77 L95.20,399.70 L101.60,399.70 L101.60,400.67 L99.27,400.99 L83.95,421.20 L82.78,421.20 L83.17,416.47 L83.95,411.95 L84.33,406.80 L84.92,400.77 L82.20,400.69Z" fill="#000"/>
<path d="M33.30,1206.31 L34.82,1205.64 L36.73,1205.30 L37.87,1205.80 L38.51,1210.17 L39.02,1215.04 L39.14,1217.73 L40.03,1217.40 L42.19,1213.70 L43.97,1210.00 L43.21,1208.49 L42.83,1206.98 L43.46,1205.64 L44.35,1205.30 L45.36,1205.64 L46.00,1206.98 L45.87,1208.66 L44.35,1211.68 L42.19,1215.38 L40.03,1219.24 L37.87,1222.10 L37.24,1221.93 L36.98,1219.92 L36.73,1216.89 L36.47,1213.03 L36.09,1209.50 L35.46,1207.99 L34.32,1207.65 L33.30,1207.65Z" fill="#000"/>
<path d="M80.10,1197.00 L89.30,1197.00 L89.30,1198.13 L86.67,1198.23 L86.23,1205.12 L84.92,1211.76 L84.26,1216.19 L96.96,1198.23 L94.77,1198.23 L94.77,1197.00 L102.00,1197.00 L102.00,1198.11 L99.37,1198.48 L82.07,1221.60 L80.76,1221.60 L81.19,1216.19 L82.07,1211.02 L82.51,1205.12 L83.17,1198.23 L80.10,1198.13Z" fill="#000"/>
<path d="M915.90,225.90 L917.87,225.17 L920.33,224.80 L921.80,225.35 L922.62,230.11 L923.28,235.41 L923.44,238.34 L924.59,237.98 L927.38,233.95 L929.68,229.92 L928.69,228.28 L928.20,226.63 L929.02,225.17 L930.17,224.80 L931.48,225.17 L932.30,226.63 L932.14,228.46 L930.17,231.75 L927.38,235.78 L924.59,239.99 L921.80,243.10 L920.98,242.92 L920.66,240.72 L920.33,237.43 L920.00,233.22 L919.51,229.38 L918.69,227.73 L917.21,227.36 L915.90,227.36Z" fill="#000"/>
<path d="M910.60,596.81 L912.35,596.14 L914.54,595.80 L915.86,596.30 L916.59,600.67 L917.17,605.54 L917.32,608.23 L918.34,607.90 L920.82,604.20 L922.86,600.50 L921.99,598.99 L921.55,597.48 L922.28,596.14 L923.30,595.80 L924.47,596.14 L925.20,597.48 L925.05,599.16 L923.30,602.18 L920.82,605.88 L918.34,609.74 L915.86,612.60 L915.13,612.43 L914.83,610.42 L914.54,607.39 L914.25,603.53 L913.81,600.00 L913.08,598.49 L911.77,598.15 L910.60,598.15Z" fill="#000"/>
<path d="M939.00,1385.30 L940.68,1384.63 L942.78,1384.30 L944.04,1384.80 L944.74,1389.14 L945.30,1393.99 L945.44,1396.66 L946.42,1396.32 L948.80,1392.65 L950.76,1388.98 L949.92,1387.47 L949.50,1385.97 L950.20,1384.63 L951.18,1384.30 L952.30,1384.63 L953.00,1385.97 L952.86,1387.64 L951.18,1390.65 L948.80,1394.32 L946.42,1398.16 L944.04,1401.00 L943.34,1400.83 L943.06,1398.83 L942.78,1395.82 L942.50,1391.98 L942.08,1388.47 L941.38,1386.97 L940.12,1386.64 L939.00,1386.64Z" fill="#000"/>
<path d="M921.40,1433.60 L923.15,1433.00 L925.34,1432.70 L926.66,1433.15 L927.39,1437.05 L927.97,1441.40 L928.12,1443.80 L929.14,1443.50 L931.62,1440.20 L933.66,1436.90 L932.79,1435.55 L932.35,1434.20 L933.08,1433.00 L934.10,1432.70 L935.27,1433.00 L936.00,1434.20 L935.85,1435.70 L934.10,1438.40 L931.62,1441.70 L929.14,1445.15 L926.66,1447.70 L925.93,1447.55 L925.63,1445.75 L925.34,1443.05 L925.05,1439.60 L924.61,1436.45 L923.88,1435.10 L922.57,1434.80 L921.40,1434.80Z" fill="#000"/>
<path d="M1.88,824.42 L4.71,823.49 L7.58,822.99 L4.75,833.16 L4.34,834.53 L5.31,834.13 L7.17,833.20 L5.72,835.48 L2.88,837.80 L1.34,837.48 L1.10,835.69 L3.77,825.77 L3.29,824.97 L1.97,825.03Z" fill="#000"/>
<ellipse cx="7.44" cy="818.30" rx="1.62" ry="1.52" fill="#000"/>
<path d="M946.10,828.61 L949.00,827.56 L951.94,826.99 L949.03,838.46 L948.62,840.01 L949.62,839.56 L951.52,838.51 L950.03,841.08 L947.13,843.70 L945.55,843.34 L945.30,841.32 L948.04,830.13 L947.54,829.23 L946.20,829.30Z" fill="#000"/>
<ellipse cx="951.80" cy="821.71" rx="1.66" ry="1.71" fill="#000"/>
<path d="M944.87,869.45 L947.67,868.48 L950.50,867.96 L947.70,878.56 L947.30,879.99 L948.26,879.57 L950.10,878.60 L948.66,880.98 L945.86,883.40 L944.34,883.07 L944.10,881.20 L946.74,870.86 L946.26,870.02 L944.96,870.09Z" fill="#000"/>
<ellipse cx="950.36" cy="863.07" rx="1.60" ry="1.58" fill="#000"/>
<text x="61.17" y="49.48" style="font-style:italic;font-size:19px" fill="#000" >o</text>
<text x="72.53" y="49.60" style="font-size:20px" fill="#000" >2</text>
<text x="49.58" y="429.57" style="font-style:italic;font-size:19px" fill="#000" >o</text>
<text x="60.25" y="429.70" style="font-size:20px" fill="#000" >1</text>
<text x="7.60" y="845.67" style="font-style:italic;font-size:18px" fill="#000" >o</text>
<text x="16.18" y="845.80" style="font-size:19px" fill="#000" >1</text>
<text x="26.75" y="845.62" style="font-size:19px" fill="#000" >,</text>
<text x="32.90" y="845.67" style="font-style:italic;font-size:18px" fill="#000" >o</text>
<text x="44.33" y="845.80" style="font-size:19px" fill="#000" >2</text>
<text x="77.15" y="837.70" style="font-style:italic;font-size:33px" fill="#000" >A</text>
<text x="47.35" y="1230.47" style="font-style:italic;font-size:20px" fill="#000" >b</text>
<text x="932.17" y="251.75" style="font-style:italic;font-size:22px" fill="#000" >o</text>
<text x="944.42" y="252.00" style="font-size:22px" fill="#000" >1</text>
<text x="924.08" y="621.38" style="font-style:italic;font-size:20px" fill="#000" >o</text>
<text x="936.42" y="621.50" style="font-size:20px" fill="#000" >2</text>
<text x="952.08" y="852.08" style="font-style:italic;font-size:20px" fill="#000" >o</text>
<text x="963.05" y="852.20" style="font-size:20px" fill="#000" >1</text>
<text x="950.58" y="891.58" style="font-style:italic;font-size:20px" fill="#000" >o</text>
<text x="963.02" y="891.70" style="font-size:20px" fill="#000" >2</text>
<text x="952.85" y="1408.88" style="font-style:italic;font-size:20px" fill="#000" >b</text>
<text x="935.25" y="1456.88" style="font-style:italic;font-size:20px" fill="#000" >b</text>
<text x="961.83" y="1457.40" style="font-style:italic;font-size:20px" fill="#000" >r</text>
<text x="997.67" y="325.90" style="font-weight:bold;font-size:26px" fill="#000" >(a)</text>
<text x="989.77" y="719.10" style="font-weight:bold;font-size:26px" fill="#000" >(b)</text>
<text x="993.27" y="1120.50" style="font-weight:bold;font-size:26px" fill="#000" >(c)</text>
<text x="996.88" y="1522.30" style="font-weight:bold;font-size:26px" fill="#000" >(d)</text>
<text x="580.15" y="1609.53" style="font-weight:bold;font-size:18.4px" fill="#000" >Time (s)</text>
</svg>
</body></html>
